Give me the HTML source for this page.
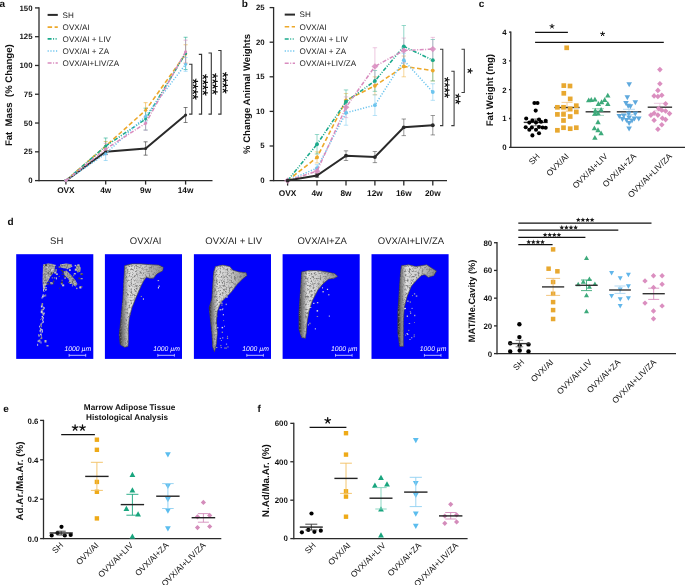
<!DOCTYPE html>
<html><head><meta charset="utf-8"><style>
html,body{margin:0;padding:0;background:#fff;}
body{width:685px;height:585px;overflow:hidden;}
svg{display:block;font-family:"Liberation Sans",sans-serif;text-rendering:geometricPrecision;will-change:transform;}
</style></head><body>
<svg width="685" height="585" viewBox="0 0 685 585">
<defs><filter id="speck2" x="0" y="0" width="100%" height="100%"><feTurbulence type="fractalNoise" baseFrequency="0.7" numOctaves="2" seed="9" result="n"/><feColorMatrix in="n" type="matrix" values="0 0 0 0 0.2  0 0 0 0 0.2  0 0 0 0 0.2  4 0 0 0 -1.7" result="d"/><feComposite in="d" in2="SourceGraphic" operator="in"/></filter><filter id="speck" x="0" y="0" width="100%" height="100%"><feTurbulence type="fractalNoise" baseFrequency="0.55" numOctaves="2" seed="4" result="n"/><feColorMatrix in="n" type="matrix" values="0 0 0 0 0.2  0 0 0 0 0.2  0 0 0 0 0.2  3.5 0 0 0 -1.6" result="d"/><feComposite in="d" in2="SourceGraphic" operator="in"/></filter><linearGradient id="bg0" x1="0" y1="0" x2="1" y2="0"><stop offset="0" stop-color="#202020"/><stop offset="0.08" stop-color="#7a7a7a"/><stop offset="0.22" stop-color="#dedede"/><stop offset="0.55" stop-color="#cacaca"/><stop offset="1" stop-color="#8a8a8a"/></linearGradient><linearGradient id="bg1" x1="0" y1="0" x2="1" y2="0"><stop offset="0" stop-color="#202020"/><stop offset="0.08" stop-color="#7a7a7a"/><stop offset="0.22" stop-color="#dedede"/><stop offset="0.55" stop-color="#cacaca"/><stop offset="1" stop-color="#8a8a8a"/></linearGradient><linearGradient id="bg2" x1="0" y1="0" x2="1" y2="0"><stop offset="0" stop-color="#202020"/><stop offset="0.08" stop-color="#7a7a7a"/><stop offset="0.22" stop-color="#dedede"/><stop offset="0.55" stop-color="#cacaca"/><stop offset="1" stop-color="#8a8a8a"/></linearGradient><linearGradient id="bg3" x1="0" y1="0" x2="1" y2="0"><stop offset="0" stop-color="#202020"/><stop offset="0.08" stop-color="#7a7a7a"/><stop offset="0.22" stop-color="#dedede"/><stop offset="0.55" stop-color="#cacaca"/><stop offset="1" stop-color="#8a8a8a"/></linearGradient><linearGradient id="bg4" x1="0" y1="0" x2="1" y2="0"><stop offset="0" stop-color="#202020"/><stop offset="0.08" stop-color="#7a7a7a"/><stop offset="0.22" stop-color="#dedede"/><stop offset="0.55" stop-color="#cacaca"/><stop offset="1" stop-color="#8a8a8a"/></linearGradient></defs>
<rect width="685" height="585" fill="#fff"/>
<line x1="39.00" y1="7.31" x2="39.00" y2="181.20" stroke="#2a2a2a" stroke-width="1.3" />
<line x1="39.00" y1="180.60" x2="212.50" y2="180.60" stroke="#2a2a2a" stroke-width="1.3" />
<line x1="35.00" y1="180.60" x2="39.00" y2="180.60" stroke="#2a2a2a" stroke-width="1.3" />
<text x="32.50" y="183.20" font-size="7.8" font-weight="bold" text-anchor="end" fill="#111" >0</text>
<line x1="35.00" y1="151.82" x2="39.00" y2="151.82" stroke="#2a2a2a" stroke-width="1.3" />
<text x="32.50" y="154.42" font-size="7.8" font-weight="bold" text-anchor="end" fill="#111" >25</text>
<line x1="35.00" y1="123.03" x2="39.00" y2="123.03" stroke="#2a2a2a" stroke-width="1.3" />
<text x="32.50" y="125.63" font-size="7.8" font-weight="bold" text-anchor="end" fill="#111" >50</text>
<line x1="35.00" y1="94.25" x2="39.00" y2="94.25" stroke="#2a2a2a" stroke-width="1.3" />
<text x="32.50" y="96.85" font-size="7.8" font-weight="bold" text-anchor="end" fill="#111" >75</text>
<line x1="35.00" y1="65.47" x2="39.00" y2="65.47" stroke="#2a2a2a" stroke-width="1.3" />
<text x="32.50" y="68.07" font-size="7.8" font-weight="bold" text-anchor="end" fill="#111" >100</text>
<line x1="35.00" y1="36.69" x2="39.00" y2="36.69" stroke="#2a2a2a" stroke-width="1.3" />
<text x="32.50" y="39.29" font-size="7.8" font-weight="bold" text-anchor="end" fill="#111" >125</text>
<line x1="35.00" y1="7.91" x2="39.00" y2="7.91" stroke="#2a2a2a" stroke-width="1.3" />
<text x="32.50" y="10.51" font-size="7.8" font-weight="bold" text-anchor="end" fill="#111" >150</text>
<line x1="65.90" y1="180.60" x2="65.90" y2="184.60" stroke="#2a2a2a" stroke-width="1.3" />
<text x="65.90" y="193.30" font-size="8.3" font-weight="bold" text-anchor="middle" fill="#111" >OVX</text>
<line x1="105.70" y1="180.60" x2="105.70" y2="184.60" stroke="#2a2a2a" stroke-width="1.3" />
<text x="105.70" y="193.30" font-size="8.3" font-weight="bold" text-anchor="middle" fill="#111" >4w</text>
<line x1="145.60" y1="180.60" x2="145.60" y2="184.60" stroke="#2a2a2a" stroke-width="1.3" />
<text x="145.60" y="193.30" font-size="8.3" font-weight="bold" text-anchor="middle" fill="#111" >9w</text>
<line x1="185.60" y1="180.60" x2="185.60" y2="184.60" stroke="#2a2a2a" stroke-width="1.3" />
<text x="185.60" y="193.30" font-size="8.3" font-weight="bold" text-anchor="middle" fill="#111" >14w</text>
<text transform="translate(11.90,95.20) rotate(-90)" font-size="9.6" font-weight="bold" text-anchor="middle" fill="#111" >Fat&#160;&#160;Mass&#160;&#160;(%&#160;Change)</text>
<text x="-0.60" y="7.00" font-size="10" font-weight="bold" text-anchor="start" fill="#111" >a</text>
<line x1="105.70" y1="148.82" x2="105.70" y2="154.58" stroke="#2a2a2a" stroke-width="0.8" opacity="0.75"/>
<line x1="103.70" y1="148.82" x2="107.70" y2="148.82" stroke="#2a2a2a" stroke-width="0.8" opacity="0.75"/>
<line x1="103.70" y1="154.58" x2="107.70" y2="154.58" stroke="#2a2a2a" stroke-width="0.8" opacity="0.75"/>
<line x1="145.60" y1="141.80" x2="145.60" y2="155.16" stroke="#2a2a2a" stroke-width="0.8" opacity="0.75"/>
<line x1="143.60" y1="141.80" x2="147.60" y2="141.80" stroke="#2a2a2a" stroke-width="0.8" opacity="0.75"/>
<line x1="143.60" y1="155.16" x2="147.60" y2="155.16" stroke="#2a2a2a" stroke-width="0.8" opacity="0.75"/>
<line x1="185.60" y1="107.49" x2="185.60" y2="122.46" stroke="#2a2a2a" stroke-width="0.8" opacity="0.75"/>
<line x1="183.60" y1="107.49" x2="187.60" y2="107.49" stroke="#2a2a2a" stroke-width="0.8" opacity="0.75"/>
<line x1="183.60" y1="122.46" x2="187.60" y2="122.46" stroke="#2a2a2a" stroke-width="0.8" opacity="0.75"/>
<line x1="105.70" y1="141.46" x2="105.70" y2="150.67" stroke="#EDA82A" stroke-width="0.8" opacity="0.75"/>
<line x1="103.70" y1="141.46" x2="107.70" y2="141.46" stroke="#EDA82A" stroke-width="0.8" opacity="0.75"/>
<line x1="103.70" y1="150.67" x2="107.70" y2="150.67" stroke="#EDA82A" stroke-width="0.8" opacity="0.75"/>
<line x1="145.60" y1="102.66" x2="145.60" y2="117.85" stroke="#EDA82A" stroke-width="0.8" opacity="0.75"/>
<line x1="143.60" y1="102.66" x2="147.60" y2="102.66" stroke="#EDA82A" stroke-width="0.8" opacity="0.75"/>
<line x1="143.60" y1="117.85" x2="147.60" y2="117.85" stroke="#EDA82A" stroke-width="0.8" opacity="0.75"/>
<line x1="185.60" y1="44.75" x2="185.60" y2="63.17" stroke="#EDA82A" stroke-width="0.8" opacity="0.75"/>
<line x1="183.60" y1="44.75" x2="187.60" y2="44.75" stroke="#EDA82A" stroke-width="0.8" opacity="0.75"/>
<line x1="183.60" y1="63.17" x2="187.60" y2="63.17" stroke="#EDA82A" stroke-width="0.8" opacity="0.75"/>
<line x1="105.70" y1="138.00" x2="105.70" y2="154.12" stroke="#1BAA8C" stroke-width="0.8" opacity="0.75"/>
<line x1="103.70" y1="138.00" x2="107.70" y2="138.00" stroke="#1BAA8C" stroke-width="0.8" opacity="0.75"/>
<line x1="103.70" y1="154.12" x2="107.70" y2="154.12" stroke="#1BAA8C" stroke-width="0.8" opacity="0.75"/>
<line x1="145.60" y1="108.18" x2="145.60" y2="130.06" stroke="#1BAA8C" stroke-width="0.8" opacity="0.75"/>
<line x1="143.60" y1="108.18" x2="147.60" y2="108.18" stroke="#1BAA8C" stroke-width="0.8" opacity="0.75"/>
<line x1="143.60" y1="130.06" x2="147.60" y2="130.06" stroke="#1BAA8C" stroke-width="0.8" opacity="0.75"/>
<line x1="185.60" y1="37.26" x2="185.60" y2="69.50" stroke="#1BAA8C" stroke-width="0.8" opacity="0.75"/>
<line x1="183.60" y1="37.26" x2="187.60" y2="37.26" stroke="#1BAA8C" stroke-width="0.8" opacity="0.75"/>
<line x1="183.60" y1="69.50" x2="187.60" y2="69.50" stroke="#1BAA8C" stroke-width="0.8" opacity="0.75"/>
<line x1="105.70" y1="147.10" x2="105.70" y2="160.45" stroke="#6CC4EE" stroke-width="0.8" opacity="0.75"/>
<line x1="103.70" y1="147.10" x2="107.70" y2="147.10" stroke="#6CC4EE" stroke-width="0.8" opacity="0.75"/>
<line x1="103.70" y1="160.45" x2="107.70" y2="160.45" stroke="#6CC4EE" stroke-width="0.8" opacity="0.75"/>
<line x1="145.60" y1="110.49" x2="145.60" y2="122.00" stroke="#6CC4EE" stroke-width="0.8" opacity="0.75"/>
<line x1="143.60" y1="110.49" x2="147.60" y2="110.49" stroke="#6CC4EE" stroke-width="0.8" opacity="0.75"/>
<line x1="143.60" y1="122.00" x2="147.60" y2="122.00" stroke="#6CC4EE" stroke-width="0.8" opacity="0.75"/>
<line x1="185.60" y1="57.41" x2="185.60" y2="71.23" stroke="#6CC4EE" stroke-width="0.8" opacity="0.75"/>
<line x1="183.60" y1="57.41" x2="187.60" y2="57.41" stroke="#6CC4EE" stroke-width="0.8" opacity="0.75"/>
<line x1="183.60" y1="71.23" x2="187.60" y2="71.23" stroke="#6CC4EE" stroke-width="0.8" opacity="0.75"/>
<line x1="105.70" y1="143.30" x2="105.70" y2="154.81" stroke="#D98CBF" stroke-width="0.8" opacity="0.75"/>
<line x1="103.70" y1="143.30" x2="107.70" y2="143.30" stroke="#D98CBF" stroke-width="0.8" opacity="0.75"/>
<line x1="103.70" y1="154.81" x2="107.70" y2="154.81" stroke="#D98CBF" stroke-width="0.8" opacity="0.75"/>
<line x1="145.60" y1="116.36" x2="145.60" y2="130.17" stroke="#D98CBF" stroke-width="0.8" opacity="0.75"/>
<line x1="143.60" y1="116.36" x2="147.60" y2="116.36" stroke="#D98CBF" stroke-width="0.8" opacity="0.75"/>
<line x1="143.60" y1="130.17" x2="147.60" y2="130.17" stroke="#D98CBF" stroke-width="0.8" opacity="0.75"/>
<line x1="185.60" y1="40.14" x2="185.60" y2="63.17" stroke="#D98CBF" stroke-width="0.8" opacity="0.75"/>
<line x1="183.60" y1="40.14" x2="187.60" y2="40.14" stroke="#D98CBF" stroke-width="0.8" opacity="0.75"/>
<line x1="183.60" y1="63.17" x2="187.60" y2="63.17" stroke="#D98CBF" stroke-width="0.8" opacity="0.75"/>
<polyline points="65.90,180.60 105.70,151.70 145.60,148.48 185.60,114.98" fill="none" stroke="#2a2a2a" stroke-width="2.0" />
<circle cx="65.90" cy="180.60" r="1.5" fill="#2a2a2a"/>
<circle cx="105.70" cy="151.70" r="1.5" fill="#2a2a2a"/>
<circle cx="145.60" cy="148.48" r="1.5" fill="#2a2a2a"/>
<circle cx="185.60" cy="114.98" r="1.5" fill="#2a2a2a"/>
<polyline points="65.90,180.60 105.70,146.06 145.60,110.26 185.60,53.96" fill="none" stroke="#EDA82A" stroke-width="1.6" stroke-dasharray="4.5 2.5"/>
<circle cx="65.90" cy="180.60" r="1.5" fill="#EDA82A"/>
<circle cx="105.70" cy="146.06" r="1.5" fill="#EDA82A"/>
<circle cx="145.60" cy="110.26" r="1.5" fill="#EDA82A"/>
<circle cx="185.60" cy="53.96" r="1.5" fill="#EDA82A"/>
<polyline points="65.90,180.60 105.70,146.06 145.60,119.12 185.60,53.38" fill="none" stroke="#1BAA8C" stroke-width="1.6" stroke-dasharray="4 1.5 1 1.5 1 1.5"/>
<circle cx="65.90" cy="180.60" r="1.5" fill="#1BAA8C"/>
<circle cx="105.70" cy="146.06" r="1.5" fill="#1BAA8C"/>
<circle cx="145.60" cy="119.12" r="1.5" fill="#1BAA8C"/>
<circle cx="185.60" cy="53.38" r="1.5" fill="#1BAA8C"/>
<polyline points="65.90,180.60 105.70,153.77 145.60,116.24 185.60,64.32" fill="none" stroke="#6CC4EE" stroke-width="1.5" stroke-dasharray="1.2 1.6"/>
<circle cx="65.90" cy="180.60" r="1.5" fill="#6CC4EE"/>
<circle cx="105.70" cy="153.77" r="1.5" fill="#6CC4EE"/>
<circle cx="145.60" cy="116.24" r="1.5" fill="#6CC4EE"/>
<circle cx="185.60" cy="64.32" r="1.5" fill="#6CC4EE"/>
<polyline points="65.90,180.60 105.70,149.05 145.60,123.27 185.60,51.65" fill="none" stroke="#D98CBF" stroke-width="1.5" stroke-dasharray="4 1.5 1 1.5"/>
<circle cx="65.90" cy="180.60" r="1.5" fill="#D98CBF"/>
<circle cx="105.70" cy="149.05" r="1.5" fill="#D98CBF"/>
<circle cx="145.60" cy="123.27" r="1.5" fill="#D98CBF"/>
<circle cx="185.60" cy="51.65" r="1.5" fill="#D98CBF"/>
<line x1="47.6" y1="14.9" x2="57.8" y2="14.9" stroke="#2a2a2a" stroke-width="2.0" />
<text x="62.60" y="17.70" font-size="8.1" font-weight="normal" text-anchor="start" fill="#1e1e1e" >SH</text>
<line x1="47.6" y1="27.1" x2="57.8" y2="27.1" stroke="#EDA82A" stroke-width="1.6" stroke-dasharray="4.5 2.5"/>
<text x="62.60" y="29.90" font-size="8.1" font-weight="normal" text-anchor="start" fill="#1e1e1e" >OVX/AI</text>
<line x1="47.6" y1="38.9" x2="57.8" y2="38.9" stroke="#1BAA8C" stroke-width="1.6" stroke-dasharray="4 1.5 1 1.5 1 1.5"/>
<text x="62.60" y="41.70" font-size="8.1" font-weight="normal" text-anchor="start" fill="#1e1e1e" >OVX/AI + LIV</text>
<line x1="47.6" y1="51.1" x2="57.8" y2="51.1" stroke="#6CC4EE" stroke-width="1.5" stroke-dasharray="1.2 1.6"/>
<text x="62.60" y="53.90" font-size="8.1" font-weight="normal" text-anchor="start" fill="#1e1e1e" >OVX/AI + ZA</text>
<line x1="47.6" y1="63.1" x2="57.8" y2="63.1" stroke="#D98CBF" stroke-width="1.5" stroke-dasharray="4 1.5 1 1.5"/>
<text x="62.60" y="65.90" font-size="8.1" font-weight="normal" text-anchor="start" fill="#1e1e1e" >OVX/AI+LIV/ZA</text>
<polyline points="189.10,64.20 191.90,64.20 191.90,114.1 189.10,114.1" fill="none" stroke="#333" stroke-width="1.1"/>
<path d="M195.20,81.40 L197.60,81.40 M195.20,81.40 L195.94,83.68 M195.20,81.40 L193.26,82.81 M195.20,81.40 L193.26,79.99 M195.20,81.40 L195.94,79.12" stroke="#111" stroke-width="1.15" stroke-linecap="round" fill="none"/>
<path d="M195.20,86.50 L197.60,86.50 M195.20,86.50 L195.94,88.78 M195.20,86.50 L193.26,87.91 M195.20,86.50 L193.26,85.09 M195.20,86.50 L195.94,84.22" stroke="#111" stroke-width="1.15" stroke-linecap="round" fill="none"/>
<path d="M195.20,91.90 L197.60,91.90 M195.20,91.90 L195.94,94.18 M195.20,91.90 L193.26,93.31 M195.20,91.90 L193.26,90.49 M195.20,91.90 L195.94,89.62" stroke="#111" stroke-width="1.15" stroke-linecap="round" fill="none"/>
<path d="M195.20,96.90 L197.60,96.90 M195.20,96.90 L195.94,99.18 M195.20,96.90 L193.26,98.31 M195.20,96.90 L193.26,95.49 M195.20,96.90 L195.94,94.62" stroke="#111" stroke-width="1.15" stroke-linecap="round" fill="none"/>
<polyline points="198.80,54.40 201.60,54.40 201.60,114.1 198.80,114.1" fill="none" stroke="#333" stroke-width="1.1"/>
<path d="M205.10,76.90 L207.50,76.90 M205.10,76.90 L205.84,79.18 M205.10,76.90 L203.16,78.31 M205.10,76.90 L203.16,75.49 M205.10,76.90 L205.84,74.62" stroke="#111" stroke-width="1.15" stroke-linecap="round" fill="none"/>
<path d="M205.10,82.30 L207.50,82.30 M205.10,82.30 L205.84,84.58 M205.10,82.30 L203.16,83.71 M205.10,82.30 L203.16,80.89 M205.10,82.30 L205.84,80.02" stroke="#111" stroke-width="1.15" stroke-linecap="round" fill="none"/>
<path d="M205.10,87.40 L207.50,87.40 M205.10,87.40 L205.84,89.68 M205.10,87.40 L203.16,88.81 M205.10,87.40 L203.16,85.99 M205.10,87.40 L205.84,85.12" stroke="#111" stroke-width="1.15" stroke-linecap="round" fill="none"/>
<path d="M205.10,92.80 L207.50,92.80 M205.10,92.80 L205.84,95.08 M205.10,92.80 L203.16,94.21 M205.10,92.80 L203.16,91.39 M205.10,92.80 L205.84,90.52" stroke="#111" stroke-width="1.15" stroke-linecap="round" fill="none"/>
<polyline points="208.50,53.00 211.30,53.00 211.30,114.1 208.50,114.1" fill="none" stroke="#333" stroke-width="1.1"/>
<path d="M214.90,76.00 L217.30,76.00 M214.90,76.00 L215.64,78.28 M214.90,76.00 L212.96,77.41 M214.90,76.00 L212.96,74.59 M214.90,76.00 L215.64,73.72" stroke="#111" stroke-width="1.15" stroke-linecap="round" fill="none"/>
<path d="M214.90,81.40 L217.30,81.40 M214.90,81.40 L215.64,83.68 M214.90,81.40 L212.96,82.81 M214.90,81.40 L212.96,79.99 M214.90,81.40 L215.64,79.12" stroke="#111" stroke-width="1.15" stroke-linecap="round" fill="none"/>
<path d="M214.90,86.50 L217.30,86.50 M214.90,86.50 L215.64,88.78 M214.90,86.50 L212.96,87.91 M214.90,86.50 L212.96,85.09 M214.90,86.50 L215.64,84.22" stroke="#111" stroke-width="1.15" stroke-linecap="round" fill="none"/>
<path d="M214.90,91.90 L217.30,91.90 M214.90,91.90 L215.64,94.18 M214.90,91.90 L212.96,93.31 M214.90,91.90 L212.96,90.49 M214.90,91.90 L215.64,89.62" stroke="#111" stroke-width="1.15" stroke-linecap="round" fill="none"/>
<polyline points="218.20,50.50 221.00,50.50 221.00,114.1 218.20,114.1" fill="none" stroke="#333" stroke-width="1.1"/>
<path d="M225.10,74.80 L227.50,74.80 M225.10,74.80 L225.84,77.08 M225.10,74.80 L223.16,76.21 M225.10,74.80 L223.16,73.39 M225.10,74.80 L225.84,72.52" stroke="#111" stroke-width="1.15" stroke-linecap="round" fill="none"/>
<path d="M225.10,80.20 L227.50,80.20 M225.10,80.20 L225.84,82.48 M225.10,80.20 L223.16,81.61 M225.10,80.20 L223.16,78.79 M225.10,80.20 L225.84,77.92" stroke="#111" stroke-width="1.15" stroke-linecap="round" fill="none"/>
<path d="M225.10,85.30 L227.50,85.30 M225.10,85.30 L225.84,87.58 M225.10,85.30 L223.16,86.71 M225.10,85.30 L223.16,83.89 M225.10,85.30 L225.84,83.02" stroke="#111" stroke-width="1.15" stroke-linecap="round" fill="none"/>
<path d="M225.10,90.70 L227.50,90.70 M225.10,90.70 L225.84,92.98 M225.10,90.70 L223.16,92.11 M225.10,90.70 L223.16,89.29 M225.10,90.70 L225.84,88.42" stroke="#111" stroke-width="1.15" stroke-linecap="round" fill="none"/>
<line x1="273.60" y1="7.00" x2="273.60" y2="181.20" stroke="#2a2a2a" stroke-width="1.3" />
<line x1="273.60" y1="180.60" x2="447.00" y2="180.60" stroke="#2a2a2a" stroke-width="1.3" />
<line x1="269.60" y1="180.60" x2="273.60" y2="180.60" stroke="#2a2a2a" stroke-width="1.3" />
<text x="264.60" y="182.90" font-size="7.8" font-weight="bold" text-anchor="end" fill="#111" >0</text>
<line x1="269.60" y1="146.00" x2="273.60" y2="146.00" stroke="#2a2a2a" stroke-width="1.3" />
<text x="264.60" y="148.30" font-size="7.8" font-weight="bold" text-anchor="end" fill="#111" >5</text>
<line x1="269.60" y1="111.40" x2="273.60" y2="111.40" stroke="#2a2a2a" stroke-width="1.3" />
<text x="264.60" y="113.70" font-size="7.8" font-weight="bold" text-anchor="end" fill="#111" >10</text>
<line x1="269.60" y1="76.80" x2="273.60" y2="76.80" stroke="#2a2a2a" stroke-width="1.3" />
<text x="264.60" y="79.10" font-size="7.8" font-weight="bold" text-anchor="end" fill="#111" >15</text>
<line x1="269.60" y1="42.20" x2="273.60" y2="42.20" stroke="#2a2a2a" stroke-width="1.3" />
<text x="264.60" y="44.50" font-size="7.8" font-weight="bold" text-anchor="end" fill="#111" >20</text>
<line x1="269.60" y1="7.60" x2="273.60" y2="7.60" stroke="#2a2a2a" stroke-width="1.3" />
<text x="264.60" y="9.90" font-size="7.8" font-weight="bold" text-anchor="end" fill="#111" >25</text>
<line x1="287.60" y1="180.60" x2="287.60" y2="185.60" stroke="#2a2a2a" stroke-width="1.3" />
<text x="287.60" y="196.00" font-size="8.3" font-weight="bold" text-anchor="middle" fill="#111" >OVX</text>
<line x1="317.00" y1="180.60" x2="317.00" y2="185.60" stroke="#2a2a2a" stroke-width="1.3" />
<text x="317.00" y="196.00" font-size="8.3" font-weight="bold" text-anchor="middle" fill="#111" >4w</text>
<line x1="346.00" y1="180.60" x2="346.00" y2="185.60" stroke="#2a2a2a" stroke-width="1.3" />
<text x="346.00" y="196.00" font-size="8.3" font-weight="bold" text-anchor="middle" fill="#111" >8w</text>
<line x1="374.90" y1="180.60" x2="374.90" y2="185.60" stroke="#2a2a2a" stroke-width="1.3" />
<text x="374.90" y="196.00" font-size="8.3" font-weight="bold" text-anchor="middle" fill="#111" >12w</text>
<line x1="403.80" y1="180.60" x2="403.80" y2="185.60" stroke="#2a2a2a" stroke-width="1.3" />
<text x="403.80" y="196.00" font-size="8.3" font-weight="bold" text-anchor="middle" fill="#111" >16w</text>
<line x1="432.80" y1="180.60" x2="432.80" y2="185.60" stroke="#2a2a2a" stroke-width="1.3" />
<text x="432.80" y="196.00" font-size="8.3" font-weight="bold" text-anchor="middle" fill="#111" >20w</text>
<text transform="translate(250.20,94.00) rotate(-90)" font-size="9.55" font-weight="bold" text-anchor="middle" fill="#111" >%&#160;Change Animal Weights</text>
<text x="241.80" y="7.10" font-size="10" font-weight="bold" text-anchor="start" fill="#111" >b</text>
<line x1="317.00" y1="173.40" x2="317.00" y2="177.56" stroke="#2a2a2a" stroke-width="0.8" opacity="0.6"/>
<line x1="314.80" y1="173.40" x2="319.20" y2="173.40" stroke="#2a2a2a" stroke-width="0.8" opacity="0.6"/>
<line x1="314.80" y1="177.56" x2="319.20" y2="177.56" stroke="#2a2a2a" stroke-width="0.8" opacity="0.6"/>
<line x1="346.00" y1="150.84" x2="346.00" y2="160.53" stroke="#2a2a2a" stroke-width="0.8" opacity="0.6"/>
<line x1="343.80" y1="150.84" x2="348.20" y2="150.84" stroke="#2a2a2a" stroke-width="0.8" opacity="0.6"/>
<line x1="343.80" y1="160.53" x2="348.20" y2="160.53" stroke="#2a2a2a" stroke-width="0.8" opacity="0.6"/>
<line x1="374.90" y1="151.54" x2="374.90" y2="162.61" stroke="#2a2a2a" stroke-width="0.8" opacity="0.6"/>
<line x1="372.70" y1="151.54" x2="377.10" y2="151.54" stroke="#2a2a2a" stroke-width="0.8" opacity="0.6"/>
<line x1="372.70" y1="162.61" x2="377.10" y2="162.61" stroke="#2a2a2a" stroke-width="0.8" opacity="0.6"/>
<line x1="403.80" y1="119.01" x2="403.80" y2="135.62" stroke="#2a2a2a" stroke-width="0.8" opacity="0.6"/>
<line x1="401.60" y1="119.01" x2="406.00" y2="119.01" stroke="#2a2a2a" stroke-width="0.8" opacity="0.6"/>
<line x1="401.60" y1="135.62" x2="406.00" y2="135.62" stroke="#2a2a2a" stroke-width="0.8" opacity="0.6"/>
<line x1="432.80" y1="115.55" x2="432.80" y2="134.93" stroke="#2a2a2a" stroke-width="0.8" opacity="0.6"/>
<line x1="430.60" y1="115.55" x2="435.00" y2="115.55" stroke="#2a2a2a" stroke-width="0.8" opacity="0.6"/>
<line x1="430.60" y1="134.93" x2="435.00" y2="134.93" stroke="#2a2a2a" stroke-width="0.8" opacity="0.6"/>
<line x1="317.00" y1="151.88" x2="317.00" y2="162.95" stroke="#EDA82A" stroke-width="0.8" opacity="0.6"/>
<line x1="314.80" y1="151.88" x2="319.20" y2="151.88" stroke="#EDA82A" stroke-width="0.8" opacity="0.6"/>
<line x1="314.80" y1="162.95" x2="319.20" y2="162.95" stroke="#EDA82A" stroke-width="0.8" opacity="0.6"/>
<line x1="346.00" y1="93.41" x2="346.00" y2="107.25" stroke="#EDA82A" stroke-width="0.8" opacity="0.6"/>
<line x1="343.80" y1="93.41" x2="348.20" y2="93.41" stroke="#EDA82A" stroke-width="0.8" opacity="0.6"/>
<line x1="343.80" y1="107.25" x2="348.20" y2="107.25" stroke="#EDA82A" stroke-width="0.8" opacity="0.6"/>
<line x1="374.90" y1="76.80" x2="374.90" y2="94.79" stroke="#EDA82A" stroke-width="0.8" opacity="0.6"/>
<line x1="372.70" y1="76.80" x2="377.10" y2="76.80" stroke="#EDA82A" stroke-width="0.8" opacity="0.6"/>
<line x1="372.70" y1="94.79" x2="377.10" y2="94.79" stroke="#EDA82A" stroke-width="0.8" opacity="0.6"/>
<line x1="403.80" y1="56.04" x2="403.80" y2="76.80" stroke="#EDA82A" stroke-width="0.8" opacity="0.6"/>
<line x1="401.60" y1="56.04" x2="406.00" y2="56.04" stroke="#EDA82A" stroke-width="0.8" opacity="0.6"/>
<line x1="401.60" y1="76.80" x2="406.00" y2="76.80" stroke="#EDA82A" stroke-width="0.8" opacity="0.6"/>
<line x1="432.80" y1="60.19" x2="432.80" y2="80.95" stroke="#EDA82A" stroke-width="0.8" opacity="0.6"/>
<line x1="430.60" y1="60.19" x2="435.00" y2="60.19" stroke="#EDA82A" stroke-width="0.8" opacity="0.6"/>
<line x1="430.60" y1="80.95" x2="435.00" y2="80.95" stroke="#EDA82A" stroke-width="0.8" opacity="0.6"/>
<line x1="317.00" y1="134.58" x2="317.00" y2="153.96" stroke="#1BAA8C" stroke-width="0.8" opacity="0.6"/>
<line x1="314.80" y1="134.58" x2="319.20" y2="134.58" stroke="#1BAA8C" stroke-width="0.8" opacity="0.6"/>
<line x1="314.80" y1="153.96" x2="319.20" y2="153.96" stroke="#1BAA8C" stroke-width="0.8" opacity="0.6"/>
<line x1="346.00" y1="89.95" x2="346.00" y2="113.48" stroke="#1BAA8C" stroke-width="0.8" opacity="0.6"/>
<line x1="343.80" y1="89.95" x2="348.20" y2="89.95" stroke="#1BAA8C" stroke-width="0.8" opacity="0.6"/>
<line x1="343.80" y1="113.48" x2="348.20" y2="113.48" stroke="#1BAA8C" stroke-width="0.8" opacity="0.6"/>
<line x1="374.90" y1="70.57" x2="374.90" y2="91.33" stroke="#1BAA8C" stroke-width="0.8" opacity="0.6"/>
<line x1="372.70" y1="70.57" x2="377.10" y2="70.57" stroke="#1BAA8C" stroke-width="0.8" opacity="0.6"/>
<line x1="372.70" y1="91.33" x2="377.10" y2="91.33" stroke="#1BAA8C" stroke-width="0.8" opacity="0.6"/>
<line x1="403.80" y1="25.59" x2="403.80" y2="67.11" stroke="#1BAA8C" stroke-width="0.8" opacity="0.6"/>
<line x1="401.60" y1="25.59" x2="406.00" y2="25.59" stroke="#1BAA8C" stroke-width="0.8" opacity="0.6"/>
<line x1="401.60" y1="67.11" x2="406.00" y2="67.11" stroke="#1BAA8C" stroke-width="0.8" opacity="0.6"/>
<line x1="432.80" y1="39.43" x2="432.80" y2="80.95" stroke="#1BAA8C" stroke-width="0.8" opacity="0.6"/>
<line x1="430.60" y1="39.43" x2="435.00" y2="39.43" stroke="#1BAA8C" stroke-width="0.8" opacity="0.6"/>
<line x1="430.60" y1="80.95" x2="435.00" y2="80.95" stroke="#1BAA8C" stroke-width="0.8" opacity="0.6"/>
<line x1="317.00" y1="164.68" x2="317.00" y2="171.60" stroke="#6CC4EE" stroke-width="0.8" opacity="0.6"/>
<line x1="314.80" y1="164.68" x2="319.20" y2="164.68" stroke="#6CC4EE" stroke-width="0.8" opacity="0.6"/>
<line x1="314.80" y1="171.60" x2="319.20" y2="171.60" stroke="#6CC4EE" stroke-width="0.8" opacity="0.6"/>
<line x1="346.00" y1="100.33" x2="346.00" y2="125.24" stroke="#6CC4EE" stroke-width="0.8" opacity="0.6"/>
<line x1="343.80" y1="100.33" x2="348.20" y2="100.33" stroke="#6CC4EE" stroke-width="0.8" opacity="0.6"/>
<line x1="343.80" y1="125.24" x2="348.20" y2="125.24" stroke="#6CC4EE" stroke-width="0.8" opacity="0.6"/>
<line x1="374.90" y1="94.79" x2="374.90" y2="115.55" stroke="#6CC4EE" stroke-width="0.8" opacity="0.6"/>
<line x1="372.70" y1="94.79" x2="377.10" y2="94.79" stroke="#6CC4EE" stroke-width="0.8" opacity="0.6"/>
<line x1="372.70" y1="115.55" x2="377.10" y2="115.55" stroke="#6CC4EE" stroke-width="0.8" opacity="0.6"/>
<line x1="403.80" y1="53.27" x2="403.80" y2="67.11" stroke="#6CC4EE" stroke-width="0.8" opacity="0.6"/>
<line x1="401.60" y1="53.27" x2="406.00" y2="53.27" stroke="#6CC4EE" stroke-width="0.8" opacity="0.6"/>
<line x1="401.60" y1="67.11" x2="406.00" y2="67.11" stroke="#6CC4EE" stroke-width="0.8" opacity="0.6"/>
<line x1="432.80" y1="83.72" x2="432.80" y2="100.33" stroke="#6CC4EE" stroke-width="0.8" opacity="0.6"/>
<line x1="430.60" y1="83.72" x2="435.00" y2="83.72" stroke="#6CC4EE" stroke-width="0.8" opacity="0.6"/>
<line x1="430.60" y1="100.33" x2="435.00" y2="100.33" stroke="#6CC4EE" stroke-width="0.8" opacity="0.6"/>
<line x1="317.00" y1="167.73" x2="317.00" y2="174.65" stroke="#D98CBF" stroke-width="0.8" opacity="0.6"/>
<line x1="314.80" y1="167.73" x2="319.20" y2="167.73" stroke="#D98CBF" stroke-width="0.8" opacity="0.6"/>
<line x1="314.80" y1="174.65" x2="319.20" y2="174.65" stroke="#D98CBF" stroke-width="0.8" opacity="0.6"/>
<line x1="346.00" y1="96.87" x2="346.00" y2="117.63" stroke="#D98CBF" stroke-width="0.8" opacity="0.6"/>
<line x1="343.80" y1="96.87" x2="348.20" y2="96.87" stroke="#D98CBF" stroke-width="0.8" opacity="0.6"/>
<line x1="343.80" y1="117.63" x2="348.20" y2="117.63" stroke="#D98CBF" stroke-width="0.8" opacity="0.6"/>
<line x1="374.90" y1="47.74" x2="374.90" y2="85.10" stroke="#D98CBF" stroke-width="0.8" opacity="0.6"/>
<line x1="372.70" y1="47.74" x2="377.10" y2="47.74" stroke="#D98CBF" stroke-width="0.8" opacity="0.6"/>
<line x1="372.70" y1="85.10" x2="377.10" y2="85.10" stroke="#D98CBF" stroke-width="0.8" opacity="0.6"/>
<line x1="403.80" y1="38.05" x2="403.80" y2="62.96" stroke="#D98CBF" stroke-width="0.8" opacity="0.6"/>
<line x1="401.60" y1="38.05" x2="406.00" y2="38.05" stroke="#D98CBF" stroke-width="0.8" opacity="0.6"/>
<line x1="401.60" y1="62.96" x2="406.00" y2="62.96" stroke="#D98CBF" stroke-width="0.8" opacity="0.6"/>
<line x1="432.80" y1="37.36" x2="432.80" y2="60.88" stroke="#D98CBF" stroke-width="0.8" opacity="0.6"/>
<line x1="430.60" y1="37.36" x2="435.00" y2="37.36" stroke="#D98CBF" stroke-width="0.8" opacity="0.6"/>
<line x1="430.60" y1="60.88" x2="435.00" y2="60.88" stroke="#D98CBF" stroke-width="0.8" opacity="0.6"/>
<polyline points="287.60,180.60 317.00,157.42 346.00,100.33 374.90,85.80 403.80,66.42 432.80,70.57" fill="none" stroke="#EDA82A" stroke-width="1.6" stroke-dasharray="4.5 2.5"/>
<circle cx="287.60" cy="180.60" r="1.9" fill="#EDA82A"/>
<circle cx="317.00" cy="157.42" r="1.9" fill="#EDA82A"/>
<circle cx="346.00" cy="100.33" r="1.9" fill="#EDA82A"/>
<circle cx="374.90" cy="85.80" r="1.9" fill="#EDA82A"/>
<circle cx="403.80" cy="66.42" r="1.9" fill="#EDA82A"/>
<circle cx="432.80" cy="70.57" r="1.9" fill="#EDA82A"/>
<polyline points="287.60,180.60 317.00,144.27 346.00,101.71 374.90,80.95 403.80,46.35 432.80,60.19" fill="none" stroke="#1BAA8C" stroke-width="1.6" stroke-dasharray="4 1.5 1 1.5 1 1.5"/>
<circle cx="287.60" cy="180.60" r="1.9" fill="#1BAA8C"/>
<circle cx="317.00" cy="144.27" r="1.9" fill="#1BAA8C"/>
<circle cx="346.00" cy="101.71" r="1.9" fill="#1BAA8C"/>
<circle cx="374.90" cy="80.95" r="1.9" fill="#1BAA8C"/>
<circle cx="403.80" cy="46.35" r="1.9" fill="#1BAA8C"/>
<circle cx="432.80" cy="60.19" r="1.9" fill="#1BAA8C"/>
<polyline points="287.60,180.60 317.00,168.14 346.00,112.78 374.90,105.17 403.80,60.19 432.80,92.02" fill="none" stroke="#6CC4EE" stroke-width="1.5" stroke-dasharray="1.2 1.6"/>
<circle cx="287.60" cy="180.60" r="1.9" fill="#6CC4EE"/>
<circle cx="317.00" cy="168.14" r="1.9" fill="#6CC4EE"/>
<circle cx="346.00" cy="112.78" r="1.9" fill="#6CC4EE"/>
<circle cx="374.90" cy="105.17" r="1.9" fill="#6CC4EE"/>
<circle cx="403.80" cy="60.19" r="1.9" fill="#6CC4EE"/>
<circle cx="432.80" cy="92.02" r="1.9" fill="#6CC4EE"/>
<polyline points="287.60,180.60 317.00,171.19 346.00,107.25 374.90,66.42 403.80,50.50 432.80,49.12" fill="none" stroke="#D98CBF" stroke-width="1.5" stroke-dasharray="4 1.5 1 1.5"/>
<path d="M287.60,177.50 L291.00,180.60 L287.60,183.70 L284.20,180.60Z" fill="#D98CBF" opacity="0.85"/>
<path d="M317.00,168.09 L320.40,171.19 L317.00,174.29 L313.60,171.19Z" fill="#D98CBF" opacity="0.85"/>
<path d="M346.00,104.15 L349.40,107.25 L346.00,110.35 L342.60,107.25Z" fill="#D98CBF" opacity="0.85"/>
<path d="M374.90,63.32 L378.30,66.42 L374.90,69.52 L371.50,66.42Z" fill="#D98CBF" opacity="0.85"/>
<path d="M403.80,47.40 L407.20,50.50 L403.80,53.60 L400.40,50.50Z" fill="#D98CBF" opacity="0.85"/>
<path d="M432.80,46.02 L436.20,49.12 L432.80,52.22 L429.40,49.12Z" fill="#D98CBF" opacity="0.85"/>
<polyline points="287.60,180.60 317.00,175.48 346.00,155.69 374.90,157.07 403.80,127.32 432.80,125.24" fill="none" stroke="#2a2a2a" stroke-width="2.0" />
<circle cx="287.60" cy="180.60" r="1.9" fill="#2a2a2a"/>
<circle cx="317.00" cy="175.48" r="1.9" fill="#2a2a2a"/>
<circle cx="346.00" cy="155.69" r="1.9" fill="#2a2a2a"/>
<circle cx="374.90" cy="157.07" r="1.9" fill="#2a2a2a"/>
<circle cx="403.80" cy="127.32" r="1.9" fill="#2a2a2a"/>
<circle cx="432.80" cy="125.24" r="1.9" fill="#2a2a2a"/>
<line x1="284.7" y1="14.6" x2="295" y2="14.6" stroke="#2a2a2a" stroke-width="2.0" />
<text x="299.60" y="17.40" font-size="8.1" font-weight="normal" text-anchor="start" fill="#1e1e1e" >SH</text>
<line x1="284.7" y1="26.8" x2="295" y2="26.8" stroke="#EDA82A" stroke-width="1.6" stroke-dasharray="4.5 2.5"/>
<text x="299.60" y="29.60" font-size="8.1" font-weight="normal" text-anchor="start" fill="#1e1e1e" >OVX/AI</text>
<line x1="284.7" y1="39.0" x2="295" y2="39.0" stroke="#1BAA8C" stroke-width="1.6" stroke-dasharray="4 1.5 1 1.5 1 1.5"/>
<text x="299.60" y="41.80" font-size="8.1" font-weight="normal" text-anchor="start" fill="#1e1e1e" >OVX/AI + LIV</text>
<line x1="284.7" y1="50.9" x2="295" y2="50.9" stroke="#6CC4EE" stroke-width="1.5" stroke-dasharray="1.2 1.6"/>
<text x="299.60" y="53.70" font-size="8.1" font-weight="normal" text-anchor="start" fill="#1e1e1e" >OVX/AI + ZA</text>
<line x1="284.7" y1="63.2" x2="295" y2="63.2" stroke="#D98CBF" stroke-width="1.5" stroke-dasharray="4 1.5 1 1.5"/>
<text x="299.60" y="66.00" font-size="8.1" font-weight="normal" text-anchor="start" fill="#1e1e1e" >OVX/AI+LIV/ZA</text>
<polyline points="440.00,49.20 442.80,49.20 442.80,125.60 440.00,125.60" fill="none" stroke="#3a3a3a" stroke-width="1.05"/>
<polyline points="451.30,71.30 454.10,71.30 454.10,125.60 451.30,125.60" fill="none" stroke="#3a3a3a" stroke-width="1.05"/>
<polyline points="461.50,49.20 464.30,49.20 464.30,92.40 461.50,92.40" fill="none" stroke="#3a3a3a" stroke-width="1.05"/>
<path d="M446.90,79.80 L449.20,79.80 M446.90,79.80 L447.61,81.99 M446.90,79.80 L445.04,81.15 M446.90,79.80 L445.04,78.45 M446.90,79.80 L447.61,77.61" stroke="#111" stroke-width="1.1" stroke-linecap="round" fill="none"/>
<path d="M446.90,85.00 L449.20,85.00 M446.90,85.00 L447.61,87.19 M446.90,85.00 L445.04,86.35 M446.90,85.00 L445.04,83.65 M446.90,85.00 L447.61,82.81" stroke="#111" stroke-width="1.1" stroke-linecap="round" fill="none"/>
<path d="M446.90,90.10 L449.20,90.10 M446.90,90.10 L447.61,92.29 M446.90,90.10 L445.04,91.45 M446.90,90.10 L445.04,88.75 M446.90,90.10 L447.61,87.91" stroke="#111" stroke-width="1.1" stroke-linecap="round" fill="none"/>
<path d="M446.90,95.20 L449.20,95.20 M446.90,95.20 L447.61,97.39 M446.90,95.20 L445.04,96.55 M446.90,95.20 L445.04,93.85 M446.90,95.20 L447.61,93.01" stroke="#111" stroke-width="1.1" stroke-linecap="round" fill="none"/>
<path d="M457.80,96.30 L460.10,96.30 M457.80,96.30 L458.51,98.49 M457.80,96.30 L455.94,97.65 M457.80,96.30 L455.94,94.95 M457.80,96.30 L458.51,94.11" stroke="#111" stroke-width="1.1" stroke-linecap="round" fill="none"/>
<path d="M457.80,101.60 L460.10,101.60 M457.80,101.60 L458.51,103.79 M457.80,101.60 L455.94,102.95 M457.80,101.60 L455.94,100.25 M457.80,101.60 L458.51,99.41" stroke="#111" stroke-width="1.1" stroke-linecap="round" fill="none"/>
<path d="M469.90,70.90 L472.20,70.90 M469.90,70.90 L470.61,73.09 M469.90,70.90 L468.04,72.25 M469.90,70.90 L468.04,69.55 M469.90,70.90 L470.61,68.71" stroke="#111" stroke-width="1.1" stroke-linecap="round" fill="none"/>
<line x1="510.80" y1="31.50" x2="510.80" y2="147.90" stroke="#2a2a2a" stroke-width="1.3" />
<line x1="510.80" y1="147.30" x2="685.00" y2="147.30" stroke="#2a2a2a" stroke-width="1.3" />
<line x1="509.00" y1="147.30" x2="510.80" y2="147.30" stroke="#2a2a2a" stroke-width="1.3" />
<text x="506.60" y="150.10" font-size="7.8" font-weight="bold" text-anchor="end" fill="#111" >0</text>
<line x1="509.00" y1="118.50" x2="510.80" y2="118.50" stroke="#2a2a2a" stroke-width="1.3" />
<text x="506.60" y="121.30" font-size="7.8" font-weight="bold" text-anchor="end" fill="#111" >1</text>
<line x1="509.00" y1="89.70" x2="510.80" y2="89.70" stroke="#2a2a2a" stroke-width="1.3" />
<text x="506.60" y="92.50" font-size="7.8" font-weight="bold" text-anchor="end" fill="#111" >2</text>
<line x1="509.00" y1="60.90" x2="510.80" y2="60.90" stroke="#2a2a2a" stroke-width="1.3" />
<text x="506.60" y="63.70" font-size="7.8" font-weight="bold" text-anchor="end" fill="#111" >3</text>
<line x1="509.00" y1="32.10" x2="510.80" y2="32.10" stroke="#2a2a2a" stroke-width="1.3" />
<text x="506.60" y="34.90" font-size="7.8" font-weight="bold" text-anchor="end" fill="#111" >4</text>
<text transform="translate(492.90,90.10) rotate(-90)" font-size="9.6" font-weight="bold" text-anchor="middle" fill="#111" >Fat Weight (mg)</text>
<text x="478.70" y="7.30" font-size="10" font-weight="bold" text-anchor="start" fill="#111" >c</text>
<line x1="535.10" y1="32.40" x2="567.90" y2="32.40" stroke="#111" stroke-width="1.2" />
<path d="M552.00,26.40 L552.00,24.30 M552.00,26.40 L554.00,25.75 M552.00,26.40 L553.23,28.10 M552.00,26.40 L550.77,28.10 M552.00,26.40 L550.00,25.75" stroke="#111" stroke-width="1.0" stroke-linecap="round" fill="none"/>
<line x1="535.10" y1="42.40" x2="663.80" y2="42.40" stroke="#111" stroke-width="1.2" />
<path d="M602.60,34.00 L602.60,31.90 M602.60,34.00 L604.60,33.35 M602.60,34.00 L603.83,35.70 M602.60,34.00 L601.37,35.70 M602.60,34.00 L600.60,33.35" stroke="#111" stroke-width="1.0" stroke-linecap="round" fill="none"/>
<line x1="535.70" y1="119.00" x2="535.70" y2="125.80" stroke="#777" stroke-width="0.9" />
<line x1="530.70" y1="119.00" x2="540.70" y2="119.00" stroke="#777" stroke-width="0.9" />
<line x1="530.70" y1="125.80" x2="540.70" y2="125.80" stroke="#777" stroke-width="0.9" />
<line x1="523.70" y1="122.40" x2="547.70" y2="122.40" stroke="#333" stroke-width="1.4" />
<line x1="567.00" y1="102.40" x2="567.00" y2="111.30" stroke="#F3C98A" stroke-width="0.9" />
<line x1="561.50" y1="102.40" x2="572.50" y2="102.40" stroke="#F3C98A" stroke-width="0.9" />
<line x1="561.50" y1="111.30" x2="572.50" y2="111.30" stroke="#F3C98A" stroke-width="0.9" />
<line x1="554.40" y1="107.50" x2="579.60" y2="107.50" stroke="#333" stroke-width="1.4" />
<line x1="598.00" y1="108.60" x2="598.00" y2="115.40" stroke="#9CD4BB" stroke-width="0.9" />
<line x1="592.00" y1="108.60" x2="604.00" y2="108.60" stroke="#9CD4BB" stroke-width="0.9" />
<line x1="592.00" y1="115.40" x2="604.00" y2="115.40" stroke="#9CD4BB" stroke-width="0.9" />
<line x1="585.60" y1="111.80" x2="610.40" y2="111.80" stroke="#333" stroke-width="1.4" />
<line x1="629.00" y1="109.30" x2="629.00" y2="114.60" stroke="#AED4EE" stroke-width="0.9" />
<line x1="623.00" y1="109.30" x2="635.00" y2="109.30" stroke="#AED4EE" stroke-width="0.9" />
<line x1="623.00" y1="114.60" x2="635.00" y2="114.60" stroke="#AED4EE" stroke-width="0.9" />
<line x1="616.80" y1="111.80" x2="641.20" y2="111.80" stroke="#333" stroke-width="1.4" />
<line x1="659.90" y1="103.30" x2="659.90" y2="110.80" stroke="#EBC3DE" stroke-width="0.9" />
<line x1="653.90" y1="103.30" x2="665.90" y2="103.30" stroke="#EBC3DE" stroke-width="0.9" />
<line x1="653.90" y1="110.80" x2="665.90" y2="110.80" stroke="#EBC3DE" stroke-width="0.9" />
<line x1="647.70" y1="107.20" x2="672.10" y2="107.20" stroke="#333" stroke-width="1.4" />
<circle cx="534.40" cy="103.00" r="2.05" fill="#000"/>
<circle cx="537.50" cy="103.00" r="2.05" fill="#000"/>
<circle cx="535.70" cy="110.60" r="2.05" fill="#000"/>
<circle cx="526.20" cy="118.50" r="2.05" fill="#000"/>
<circle cx="532.40" cy="120.50" r="2.05" fill="#000"/>
<circle cx="539.00" cy="119.50" r="2.05" fill="#000"/>
<circle cx="545.70" cy="120.80" r="2.05" fill="#000"/>
<circle cx="529.30" cy="122.60" r="2.05" fill="#000"/>
<circle cx="536.00" cy="122.40" r="2.05" fill="#000"/>
<circle cx="541.00" cy="121.80" r="2.05" fill="#000"/>
<circle cx="525.70" cy="127.30" r="2.05" fill="#000"/>
<circle cx="531.90" cy="127.50" r="2.05" fill="#000"/>
<circle cx="539.00" cy="127.00" r="2.05" fill="#000"/>
<circle cx="542.60" cy="127.50" r="2.05" fill="#000"/>
<circle cx="545.70" cy="127.70" r="2.05" fill="#000"/>
<circle cx="529.30" cy="129.70" r="2.05" fill="#000"/>
<circle cx="536.00" cy="129.70" r="2.05" fill="#000"/>
<circle cx="539.00" cy="133.30" r="2.05" fill="#000"/>
<circle cx="532.40" cy="135.40" r="2.05" fill="#000"/>
<rect x="564.35" y="45.45" width="4.7" height="4.7" fill="#E8A830"/>
<rect x="561.45" y="83.25" width="4.7" height="4.7" fill="#E8A830"/>
<rect x="567.65" y="83.65" width="4.7" height="4.7" fill="#E8A830"/>
<rect x="561.45" y="90.95" width="4.7" height="4.7" fill="#E8A830"/>
<rect x="567.85" y="96.55" width="4.7" height="4.7" fill="#E8A830"/>
<rect x="555.05" y="104.95" width="4.7" height="4.7" fill="#E8A830"/>
<rect x="561.15" y="104.95" width="4.7" height="4.7" fill="#E8A830"/>
<rect x="573.95" y="103.35" width="4.7" height="4.7" fill="#E8A830"/>
<rect x="567.85" y="106.45" width="4.7" height="4.7" fill="#E8A830"/>
<rect x="555.05" y="112.05" width="4.7" height="4.7" fill="#E8A830"/>
<rect x="561.15" y="112.05" width="4.7" height="4.7" fill="#E8A830"/>
<rect x="573.95" y="109.55" width="4.7" height="4.7" fill="#E8A830"/>
<rect x="567.85" y="114.15" width="4.7" height="4.7" fill="#E8A830"/>
<rect x="561.15" y="118.15" width="4.7" height="4.7" fill="#E8A830"/>
<rect x="555.05" y="127.95" width="4.7" height="4.7" fill="#E8A830"/>
<rect x="561.15" y="125.35" width="4.7" height="4.7" fill="#E8A830"/>
<rect x="567.85" y="126.35" width="4.7" height="4.7" fill="#E8A830"/>
<rect x="573.95" y="125.35" width="4.7" height="4.7" fill="#E8A830"/>
<path d="M588.70,97.48 L591.40,102.34 L586.00,102.34Z" fill="#3DAA7B"/>
<path d="M591.30,97.08 L594.00,101.94 L588.60,101.94Z" fill="#3DAA7B"/>
<path d="M594.90,96.68 L597.60,101.54 L592.20,101.54Z" fill="#3DAA7B"/>
<path d="M607.80,92.68 L610.50,97.54 L605.10,97.54Z" fill="#3DAA7B"/>
<path d="M604.70,97.08 L607.40,101.94 L602.00,101.94Z" fill="#3DAA7B"/>
<path d="M598.40,101.08 L601.10,105.94 L595.70,105.94Z" fill="#3DAA7B"/>
<path d="M601.60,99.28 L604.30,104.14 L598.90,104.14Z" fill="#3DAA7B"/>
<path d="M607.80,101.08 L610.50,105.94 L605.10,105.94Z" fill="#3DAA7B"/>
<path d="M595.30,107.78 L598.00,112.64 L592.60,112.64Z" fill="#3DAA7B"/>
<path d="M601.10,106.88 L603.80,111.74 L598.40,111.74Z" fill="#3DAA7B"/>
<path d="M598.00,110.38 L600.70,115.24 L595.30,115.24Z" fill="#3DAA7B"/>
<path d="M594.90,110.88 L597.60,115.74 L592.20,115.74Z" fill="#3DAA7B"/>
<path d="M598.00,119.28 L600.70,124.14 L595.30,124.14Z" fill="#3DAA7B"/>
<path d="M594.40,125.48 L597.10,130.34 L591.70,130.34Z" fill="#3DAA7B"/>
<path d="M598.00,127.28 L600.70,132.14 L595.30,132.14Z" fill="#3DAA7B"/>
<path d="M601.10,130.38 L603.80,135.24 L598.40,135.24Z" fill="#3DAA7B"/>
<path d="M594.90,134.88 L597.60,139.74 L592.20,139.74Z" fill="#3DAA7B"/>
<path d="M629.20,87.22 L632.00,82.18 L626.40,82.18Z" fill="#5FA9DD"/>
<path d="M627.30,100.32 L630.10,95.28 L624.50,95.28Z" fill="#5FA9DD"/>
<path d="M626.00,106.12 L628.80,101.08 L623.20,101.08Z" fill="#5FA9DD"/>
<path d="M635.30,105.22 L638.10,100.18 L632.50,100.18Z" fill="#5FA9DD"/>
<path d="M630.40,109.22 L633.20,104.18 L627.60,104.18Z" fill="#5FA9DD"/>
<path d="M628.20,108.82 L631.00,103.78 L625.40,103.78Z" fill="#5FA9DD"/>
<path d="M619.30,119.02 L622.10,113.98 L616.50,113.98Z" fill="#5FA9DD"/>
<path d="M623.80,118.42 L626.60,113.38 L621.00,113.38Z" fill="#5FA9DD"/>
<path d="M628.70,116.62 L631.50,111.58 L625.90,111.58Z" fill="#5FA9DD"/>
<path d="M635.30,116.62 L638.10,111.58 L632.50,111.58Z" fill="#5FA9DD"/>
<path d="M622.40,122.02 L625.20,116.98 L619.60,116.98Z" fill="#5FA9DD"/>
<path d="M629.10,120.52 L631.90,115.48 L626.30,115.48Z" fill="#5FA9DD"/>
<path d="M634.40,121.42 L637.20,116.38 L631.60,116.38Z" fill="#5FA9DD"/>
<path d="M638.80,121.42 L641.60,116.38 L636.00,116.38Z" fill="#5FA9DD"/>
<path d="M626.50,123.02 L629.30,117.98 L623.70,117.98Z" fill="#5FA9DD"/>
<path d="M632.00,123.52 L634.80,118.48 L629.20,118.48Z" fill="#5FA9DD"/>
<path d="M629.10,126.02 L631.90,120.98 L626.30,120.98Z" fill="#5FA9DD"/>
<path d="M629.10,131.62 L631.90,126.58 L626.30,126.58Z" fill="#5FA9DD"/>
<path d="M659.90,66.80 L662.70,69.60 L659.90,72.40 L657.10,69.60Z" fill="#DB8FC0"/>
<path d="M659.90,80.90 L662.70,83.70 L659.90,86.50 L657.10,83.70Z" fill="#DB8FC0"/>
<path d="M657.90,87.60 L660.70,90.40 L657.90,93.20 L655.10,90.40Z" fill="#DB8FC0"/>
<path d="M654.10,93.10 L656.90,95.90 L654.10,98.70 L651.30,95.90Z" fill="#DB8FC0"/>
<path d="M657.90,93.70 L660.70,96.50 L657.90,99.30 L655.10,96.50Z" fill="#DB8FC0"/>
<path d="M661.80,92.50 L664.60,95.30 L661.80,98.10 L659.00,95.30Z" fill="#DB8FC0"/>
<path d="M665.60,101.00 L668.40,103.80 L665.60,106.60 L662.80,103.80Z" fill="#DB8FC0"/>
<path d="M658.60,105.70 L661.40,108.50 L658.60,111.30 L655.80,108.50Z" fill="#DB8FC0"/>
<path d="M661.80,107.50 L664.60,110.30 L661.80,113.10 L659.00,110.30Z" fill="#DB8FC0"/>
<path d="M665.60,108.20 L668.40,111.00 L665.60,113.80 L662.80,111.00Z" fill="#DB8FC0"/>
<path d="M669.50,110.80 L672.30,113.60 L669.50,116.40 L666.70,113.60Z" fill="#DB8FC0"/>
<path d="M650.90,112.30 L653.70,115.10 L650.90,117.90 L648.10,115.10Z" fill="#DB8FC0"/>
<path d="M654.10,110.40 L656.90,113.20 L654.10,116.00 L651.30,113.20Z" fill="#DB8FC0"/>
<path d="M657.90,112.30 L660.70,115.10 L657.90,117.90 L655.10,115.10Z" fill="#DB8FC0"/>
<path d="M662.40,115.50 L665.20,118.30 L662.40,121.10 L659.60,118.30Z" fill="#DB8FC0"/>
<path d="M665.60,116.80 L668.40,119.60 L665.60,122.40 L662.80,119.60Z" fill="#DB8FC0"/>
<path d="M654.10,117.50 L656.90,120.30 L654.10,123.10 L651.30,120.30Z" fill="#DB8FC0"/>
<path d="M661.80,121.90 L664.60,124.70 L661.80,127.50 L659.00,124.70Z" fill="#DB8FC0"/>
<path d="M657.90,126.40 L660.70,129.20 L657.90,132.00 L655.10,129.20Z" fill="#DB8FC0"/>
<text transform="translate(540.40,156.90) rotate(-45)" font-size="8.4" font-weight="normal" text-anchor="end" fill="#151515" >SH</text>
<text transform="translate(569.40,156.90) rotate(-45)" font-size="8.4" font-weight="normal" text-anchor="end" fill="#151515" >OVX/AI</text>
<text transform="translate(608.10,156.90) rotate(-45)" font-size="8.4" font-weight="normal" text-anchor="end" fill="#151515" >OVX/AI+LIV</text>
<text transform="translate(636.80,156.90) rotate(-45)" font-size="8.4" font-weight="normal" text-anchor="end" fill="#151515" >OVX/AI+ZA</text>
<text transform="translate(672.50,156.90) rotate(-45)" font-size="8.4" font-weight="normal" text-anchor="end" fill="#151515" >OVX/AI+LIV/ZA</text>
<text x="7.40" y="225.30" font-size="10" font-weight="bold" text-anchor="start" fill="#111" >d</text>
<rect x="16.2" y="254.2" width="77.1" height="104.7" fill="#0000FC"/>
<text x="56.70" y="244.40" font-size="9.5" font-weight="normal" text-anchor="middle" fill="#1e1e1e" >SH</text>
<rect x="104.9" y="254.2" width="77.1" height="104.7" fill="#0000FC"/>
<text x="145.60" y="244.40" font-size="9.5" font-weight="normal" text-anchor="middle" fill="#1e1e1e" >OVX/AI</text>
<rect x="193.9" y="254.2" width="77.1" height="104.7" fill="#0000FC"/>
<text x="233.70" y="244.40" font-size="9.5" font-weight="normal" text-anchor="middle" fill="#1e1e1e" >OVX/AI + LIV</text>
<rect x="282.6" y="254.2" width="77.1" height="104.7" fill="#0000FC"/>
<text x="322.10" y="243.80" font-size="9.5" font-weight="normal" text-anchor="middle" fill="#1e1e1e" >OVX/AI+ZA</text>
<rect x="371.5" y="254.2" width="77.1" height="104.7" fill="#0000FC"/>
<text x="411.00" y="244.40" font-size="9.5" font-weight="normal" text-anchor="middle" fill="#1e1e1e" >OVX/AI+LIV/ZA</text>
<path d="M124.7,265.7 L131.9,263.9 L140.9,263.9 L151.6,264.8 L158.8,265.1 L163.3,267.4 L162.4,271.0 L157.0,273.7 L153.4,278.2 L149.8,278.2 L146.2,277.3 L143.6,280.9 L140.9,286.3 L135.5,298.8 L131.9,307.8 L129.2,318.6 L128.3,329.3 L128.3,340.1 L128.0,346.3 L124.7,347.2 L120.2,344.5 L119.3,334.7 L121.1,316.8 L122.9,298.8 L123.8,280.9Z" fill="url(#bg1)" stroke="#444" stroke-width="0.7"/>
<path d="M124.7,265.7 L131.9,263.9 L140.9,263.9 L151.6,264.8 L158.8,265.1 L163.3,267.4 L162.4,271.0 L157.0,273.7 L153.4,278.2 L149.8,278.2 L146.2,277.3 L143.6,280.9 L140.9,286.3 L135.5,298.8 L131.9,307.8 L129.2,318.6 L128.3,329.3 L128.3,340.1 L128.0,346.3 L124.7,347.2 L120.2,344.5 L119.3,334.7 L121.1,316.8 L122.9,298.8 L123.8,280.9Z" fill="#000" filter="url(#speck)"/>
<path d="M215.5,266.6 L222.7,265.1 L229.9,266.6 L232.6,270.1 L238.8,271.9 L246.0,272.8 L246.9,275.5 L242.4,279.1 L237.0,284.5 L231.7,291.7 L226.3,297.0 L220.9,302.4 L217.3,311.4 L216.4,322.1 L217.3,332.9 L216.4,343.7 L214.6,351.7 L212.8,347.2 L211.9,332.9 L210.1,316.8 L209.2,307.8 L211.9,298.8 L212.8,284.5 L213.7,271.9Z" fill="url(#bg2)" stroke="#444" stroke-width="0.7"/>
<path d="M215.5,266.6 L222.7,265.1 L229.9,266.6 L232.6,270.1 L238.8,271.9 L246.0,272.8 L246.9,275.5 L242.4,279.1 L237.0,284.5 L231.7,291.7 L226.3,297.0 L220.9,302.4 L217.3,311.4 L216.4,322.1 L217.3,332.9 L216.4,343.7 L214.6,351.7 L212.8,347.2 L211.9,332.9 L210.1,316.8 L209.2,307.8 L211.9,298.8 L212.8,284.5 L213.7,271.9Z" fill="#000" filter="url(#speck)"/>
<path d="M301.7,271.9 L308.9,270.5 L317.9,270.5 L326.8,271.9 L334.9,273.7 L337.6,276.4 L334.0,278.2 L328.6,279.1 L323.2,283.6 L317.9,289.9 L312.5,300.6 L308.9,311.4 L307.1,322.1 L306.2,332.9 L305.3,338.3 L301.7,337.4 L299.0,329.3 L299.0,313.2 L299.9,298.8 L300.8,286.3Z" fill="url(#bg3)" stroke="#444" stroke-width="0.7"/>
<path d="M301.7,271.9 L308.9,270.5 L317.9,270.5 L326.8,271.9 L334.9,273.7 L337.6,276.4 L334.0,278.2 L328.6,279.1 L323.2,283.6 L317.9,289.9 L312.5,300.6 L308.9,311.4 L307.1,322.1 L306.2,332.9 L305.3,338.3 L301.7,337.4 L299.0,329.3 L299.0,313.2 L299.9,298.8 L300.8,286.3Z" fill="#000" filter="url(#speck)"/>
<path d="M401.5,265.7 L408.7,264.8 L415.8,266.6 L421.2,265.7 L426.6,264.8 L432.0,268.3 L436.4,271.0 L433.8,275.5 L428.4,277.3 L424.8,274.6 L421.2,275.5 L415.8,280.9 L411.3,286.3 L406.9,297.0 L404.2,307.8 L403.3,322.1 L403.3,334.7 L403.3,346.3 L399.7,346.3 L397.9,332.9 L397.9,311.4 L398.8,298.8 L399.7,284.5 L400.6,271.9Z" fill="url(#bg4)" stroke="#444" stroke-width="0.7"/>
<path d="M401.5,265.7 L408.7,264.8 L415.8,266.6 L421.2,265.7 L426.6,264.8 L432.0,268.3 L436.4,271.0 L433.8,275.5 L428.4,277.3 L424.8,274.6 L421.2,275.5 L415.8,280.9 L411.3,286.3 L406.9,297.0 L404.2,307.8 L403.3,322.1 L403.3,334.7 L403.3,346.3 L399.7,346.3 L397.9,332.9 L397.9,311.4 L398.8,298.8 L399.7,284.5 L400.6,271.9Z" fill="#000" filter="url(#speck)"/>
<path d="M43.0,264.5 L48.0,263.5 L53.0,264.0 L55.0,266.0 L54.5,271.0 L52.5,274.0 L50.0,277.0 L48.0,281.5 L46.0,283.5 L44.5,290.0 L43.0,289.0 L42.6,281.0 L42.8,272.0Z" fill="#a8a8a8"/>
<path d="M43.0,264.5 L48.0,263.5 L53.0,264.0 L55.0,266.0 L54.5,271.0 L52.5,274.0 L50.0,277.0 L48.0,281.5 L46.0,283.5 L44.5,290.0 L43.0,289.0 L42.6,281.0 L42.8,272.0Z" fill="#000" filter="url(#speck2)"/>
<path d="M60.0,264.5 L66.0,263.6 L71.5,264.2 L72.5,266.5 L69.0,268.5 L64.0,268.2 L60.5,267.5Z" fill="#a8a8a8"/>
<path d="M60.0,264.5 L66.0,263.6 L71.5,264.2 L72.5,266.5 L69.0,268.5 L64.0,268.2 L60.5,267.5Z" fill="#000" filter="url(#speck2)"/>
<path d="M76.2,265.8 L79.5,265.5 L80.8,268.0 L80.2,271.8 L77.5,272.5 L76.0,270.0Z" fill="#a8a8a8"/>
<path d="M76.2,265.8 L79.5,265.5 L80.8,268.0 L80.2,271.8 L77.5,272.5 L76.0,270.0Z" fill="#000" filter="url(#speck2)"/>
<path d="M63.5,271.5 L66.5,270.5 L71.0,275.0 L75.5,280.5 L77.5,284.0 L75.5,286.5 L72.0,284.0 L67.5,278.0 L64.0,274.5Z" fill="#a8a8a8"/>
<path d="M63.5,271.5 L66.5,270.5 L71.0,275.0 L75.5,280.5 L77.5,284.0 L75.5,286.5 L72.0,284.0 L67.5,278.0 L64.0,274.5Z" fill="#000" filter="url(#speck2)"/>
<rect x="46.1" y="274.9" width="1.3" height="1.6" fill="#d0d0d0"/>
<rect x="50.9" y="282.2" width="1.5" height="1.6" fill="#bdbdbd"/>
<rect x="55.9" y="273.4" width="2.0" height="1.5" fill="#bdbdbd"/>
<rect x="46.0" y="267.0" width="2.1" height="1.3" fill="#d0d0d0"/>
<rect x="51.7" y="265.3" width="1.9" height="1.6" fill="#8a8a8a"/>
<rect x="53.1" y="280.5" width="1.2" height="1.6" fill="#4a4a4a"/>
<rect x="52.3" y="282.4" width="1.4" height="1.9" fill="#4a4a4a"/>
<rect x="55.5" y="266.7" width="1.3" height="0.9" fill="#4a4a4a"/>
<rect x="45.8" y="283.3" width="1.4" height="1.7" fill="#8a8a8a"/>
<rect x="48.5" y="280.7" width="1.6" height="1.5" fill="#4a4a4a"/>
<rect x="50.6" y="282.1" width="1.8" height="2.1" fill="#8a8a8a"/>
<rect x="55.9" y="277.4" width="1.0" height="2.0" fill="#d0d0d0"/>
<rect x="52.3" y="268.2" width="2.0" height="1.6" fill="#8a8a8a"/>
<rect x="44.6" y="273.6" width="1.7" height="1.5" fill="#8a8a8a"/>
<rect x="53.4" y="272.2" width="1.0" height="1.2" fill="#4a4a4a"/>
<rect x="54.3" y="264.9" width="1.7" height="0.9" fill="#8a8a8a"/>
<rect x="50.2" y="282.4" width="1.2" height="1.1" fill="#d0d0d0"/>
<rect x="47.0" y="265.5" width="1.6" height="0.8" fill="#bdbdbd"/>
<rect x="55.6" y="269.8" width="1.2" height="1.8" fill="#8a8a8a"/>
<rect x="47.1" y="283.2" width="2.1" height="1.3" fill="#4a4a4a"/>
<rect x="54.3" y="271.7" width="2.0" height="1.8" fill="#d0d0d0"/>
<rect x="51.1" y="282.8" width="1.5" height="1.4" fill="#bdbdbd"/>
<rect x="55.2" y="272.7" width="1.2" height="1.2" fill="#8a8a8a"/>
<rect x="43.1" y="272.3" width="1.6" height="0.8" fill="#bdbdbd"/>
<rect x="43.8" y="276.5" width="1.5" height="1.8" fill="#8a8a8a"/>
<rect x="50.9" y="269.6" width="1.5" height="1.6" fill="#d0d0d0"/>
<rect x="55.5" y="269.0" width="1.4" height="1.6" fill="#8a8a8a"/>
<rect x="45.3" y="267.7" width="1.9" height="2.0" fill="#8a8a8a"/>
<rect x="46.9" y="271.5" width="1.9" height="0.8" fill="#bdbdbd"/>
<rect x="47.0" y="268.5" width="1.9" height="1.1" fill="#bdbdbd"/>
<rect x="51.8" y="277.0" width="0.9" height="1.6" fill="#8a8a8a"/>
<rect x="51.8" y="268.5" width="1.9" height="2.1" fill="#d0d0d0"/>
<rect x="47.4" y="277.0" width="2.0" height="1.4" fill="#bdbdbd"/>
<rect x="53.2" y="264.7" width="2.1" height="1.2" fill="#bdbdbd"/>
<rect x="54.2" y="270.8" width="2.0" height="0.9" fill="#8a8a8a"/>
<rect x="50.7" y="272.4" width="1.5" height="2.0" fill="#4a4a4a"/>
<rect x="47.5" y="272.3" width="1.4" height="1.4" fill="#4a4a4a"/>
<rect x="45.0" y="264.1" width="2.1" height="2.0" fill="#4a4a4a"/>
<rect x="50.3" y="283.7" width="1.8" height="0.8" fill="#4a4a4a"/>
<rect x="53.9" y="277.3" width="1.5" height="1.2" fill="#8a8a8a"/>
<rect x="79.4" y="286.3" width="2.0" height="2.2" fill="#c8c8c8"/>
<rect x="77.4" y="264.2" width="2.1" height="1.8" fill="#a0a0a0"/>
<rect x="79.5" y="287.3" width="1.6" height="0.8" fill="#c8c8c8"/>
<rect x="62.1" y="271.1" width="1.7" height="1.5" fill="#404040"/>
<rect x="59.3" y="287.7" width="1.0" height="1.0" fill="#404040"/>
<rect x="77.5" y="264.7" width="1.1" height="1.0" fill="#c8c8c8"/>
<rect x="62.1" y="284.4" width="2.1" height="1.9" fill="#c8c8c8"/>
<rect x="69.7" y="278.4" width="1.4" height="1.9" fill="#a0a0a0"/>
<rect x="64.4" y="277.2" width="1.4" height="1.5" fill="#c8c8c8"/>
<rect x="78.6" y="283.9" width="0.9" height="0.9" fill="#404040"/>
<rect x="81.4" y="286.1" width="0.9" height="1.5" fill="#707070"/>
<rect x="61.8" y="264.9" width="1.3" height="1.3" fill="#707070"/>
<rect x="66.7" y="268.2" width="1.3" height="1.0" fill="#c8c8c8"/>
<rect x="75.2" y="273.3" width="0.9" height="1.0" fill="#707070"/>
<rect x="69.1" y="280.6" width="1.6" height="1.7" fill="#c8c8c8"/>
<rect x="73.0" y="274.7" width="1.3" height="1.5" fill="#707070"/>
<rect x="68.1" y="281.7" width="1.4" height="1.1" fill="#707070"/>
<rect x="74.7" y="264.9" width="1.4" height="1.4" fill="#c8c8c8"/>
<rect x="80.5" y="273.1" width="2.1" height="1.9" fill="#707070"/>
<rect x="60.9" y="281.6" width="2.1" height="1.8" fill="#404040"/>
<rect x="74.0" y="282.8" width="1.6" height="0.9" fill="#c8c8c8"/>
<rect x="69.4" y="269.4" width="1.3" height="1.5" fill="#c8c8c8"/>
<rect x="73.8" y="273.1" width="1.9" height="1.3" fill="#c8c8c8"/>
<rect x="58.6" y="266.1" width="1.5" height="1.8" fill="#707070"/>
<rect x="71.9" y="284.6" width="0.9" height="1.9" fill="#a0a0a0"/>
<rect x="60.6" y="283.2" width="2.1" height="0.9" fill="#707070"/>
<rect x="78.9" y="267.9" width="0.9" height="2.2" fill="#a0a0a0"/>
<rect x="68.9" y="281.9" width="2.1" height="1.2" fill="#404040"/>
<rect x="80.5" y="278.0" width="2.2" height="1.3" fill="#a0a0a0"/>
<rect x="81.4" y="274.1" width="1.8" height="1.0" fill="#404040"/>
<rect x="61.7" y="273.8" width="2.0" height="1.0" fill="#404040"/>
<rect x="76.0" y="287.7" width="1.5" height="1.4" fill="#a0a0a0"/>
<rect x="61.3" y="283.3" width="1.0" height="1.5" fill="#a0a0a0"/>
<rect x="78.4" y="277.5" width="1.9" height="1.7" fill="#404040"/>
<rect x="72.3" y="278.8" width="2.2" height="2.0" fill="#707070"/>
<rect x="58.6" y="275.9" width="1.3" height="1.0" fill="#707070"/>
<rect x="63.7" y="276.0" width="2.0" height="1.4" fill="#404040"/>
<rect x="74.8" y="268.6" width="1.6" height="2.1" fill="#c8c8c8"/>
<rect x="69.6" y="282.5" width="2.0" height="1.4" fill="#c8c8c8"/>
<rect x="69.2" y="269.2" width="1.1" height="1.8" fill="#c8c8c8"/>
<rect x="81.0" y="286.1" width="1.1" height="1.1" fill="#707070"/>
<rect x="61.3" y="279.8" width="1.7" height="0.9" fill="#707070"/>
<rect x="62.1" y="264.2" width="1.1" height="0.9" fill="#c8c8c8"/>
<rect x="60.8" y="270.1" width="2.1" height="0.9" fill="#404040"/>
<rect x="71.9" y="281.2" width="0.8" height="1.3" fill="#404040"/>
<rect x="40.9" y="305.5" width="1.3" height="2.0" fill="#d8d8d8"/>
<rect x="42.5" y="306.2" width="0.8" height="1.2" fill="#d8d8d8"/>
<rect x="45.3" y="289.0" width="1.5" height="1.0" fill="#8a8a8a"/>
<rect x="40.3" y="324.1" width="1.1" height="1.9" fill="#8a8a8a"/>
<rect x="45.5" y="288.6" width="1.0" height="1.7" fill="#c8c8c8"/>
<rect x="40.9" y="323.3" width="0.8" height="1.3" fill="#a8a8a8"/>
<rect x="41.8" y="322.0" width="0.8" height="1.4" fill="#d8d8d8"/>
<rect x="45.4" y="289.6" width="0.8" height="1.3" fill="#d8d8d8"/>
<rect x="42.0" y="316.4" width="1.1" height="1.3" fill="#a8a8a8"/>
<rect x="39.2" y="325.7" width="0.9" height="1.7" fill="#d8d8d8"/>
<rect x="41.7" y="304.3" width="1.0" height="2.2" fill="#c8c8c8"/>
<rect x="41.0" y="311.7" width="1.3" height="1.6" fill="#8a8a8a"/>
<rect x="39.1" y="340.6" width="1.4" height="0.9" fill="#d8d8d8"/>
<rect x="38.4" y="334.5" width="0.9" height="1.0" fill="#c8c8c8"/>
<rect x="42.9" y="317.0" width="0.8" height="1.9" fill="#d8d8d8"/>
<rect x="40.4" y="323.5" width="1.6" height="1.0" fill="#a8a8a8"/>
<rect x="40.8" y="335.3" width="1.2" height="1.1" fill="#a8a8a8"/>
<rect x="42.5" y="294.5" width="1.4" height="0.8" fill="#d8d8d8"/>
<rect x="41.2" y="337.3" width="1.0" height="1.7" fill="#8a8a8a"/>
<rect x="42.7" y="321.3" width="1.3" height="1.3" fill="#d8d8d8"/>
<rect x="43.2" y="283.9" width="1.3" height="1.0" fill="#a8a8a8"/>
<rect x="41.9" y="312.5" width="1.1" height="1.1" fill="#a8a8a8"/>
<rect x="44.3" y="284.3" width="1.3" height="1.5" fill="#8a8a8a"/>
<rect x="40.6" y="341.5" width="0.8" height="2.1" fill="#c8c8c8"/>
<rect x="44.8" y="283.6" width="1.2" height="1.6" fill="#c8c8c8"/>
<rect x="38.7" y="339.6" width="1.5" height="1.9" fill="#a8a8a8"/>
<rect x="45.3" y="287.0" width="1.4" height="0.9" fill="#c8c8c8"/>
<rect x="39.9" y="327.9" width="1.4" height="2.3" fill="#a8a8a8"/>
<rect x="43.0" y="309.1" width="1.1" height="1.0" fill="#c8c8c8"/>
<rect x="43.5" y="307.3" width="1.3" height="1.4" fill="#d8d8d8"/>
<rect x="40.8" y="325.4" width="1.1" height="1.8" fill="#8a8a8a"/>
<rect x="44.2" y="283.4" width="1.3" height="1.5" fill="#d8d8d8"/>
<rect x="40.3" y="337.8" width="1.0" height="1.4" fill="#8a8a8a"/>
<rect x="40.2" y="319.0" width="0.7" height="1.1" fill="#8a8a8a"/>
<rect x="43.6" y="290.9" width="0.9" height="1.1" fill="#a8a8a8"/>
<rect x="41.3" y="318.2" width="1.3" height="1.0" fill="#a8a8a8"/>
<rect x="40.9" y="309.4" width="1.5" height="1.4" fill="#8a8a8a"/>
<rect x="43.0" y="307.3" width="0.7" height="1.4" fill="#d8d8d8"/>
<rect x="43.3" y="312.6" width="1.5" height="1.2" fill="#d8d8d8"/>
<rect x="40.7" y="311.4" width="1.3" height="1.4" fill="#c8c8c8"/>
<rect x="42.3" y="318.9" width="1.0" height="2.4" fill="#d8d8d8"/>
<rect x="41.8" y="330.9" width="1.1" height="1.7" fill="#c8c8c8"/>
<rect x="40.5" y="332.5" width="1.0" height="0.9" fill="#d8d8d8"/>
<rect x="39.5" y="342.1" width="0.7" height="0.8" fill="#c8c8c8"/>
<rect x="44.4" y="283.2" width="1.1" height="1.1" fill="#8a8a8a"/>
<rect x="45.1" y="294.4" width="1.1" height="2.1" fill="#8a8a8a"/>
<rect x="37.7" y="340.3" width="1.0" height="1.8" fill="#d8d8d8"/>
<rect x="43.3" y="287.4" width="1.5" height="1.0" fill="#d8d8d8"/>
<rect x="41.6" y="315.9" width="1.4" height="1.4" fill="#d8d8d8"/>
<rect x="40.1" y="333.8" width="1.5" height="1.4" fill="#d8d8d8"/>
<rect x="41.9" y="309.2" width="1.3" height="1.4" fill="#a8a8a8"/>
<rect x="42.6" y="313.4" width="1.5" height="1.9" fill="#d8d8d8"/>
<rect x="43.1" y="284.6" width="1.4" height="2.1" fill="#c8c8c8"/>
<rect x="41.0" y="329.0" width="0.8" height="1.2" fill="#c8c8c8"/>
<rect x="41.0" y="336.5" width="1.1" height="2.2" fill="#8a8a8a"/>
<rect x="37.2" y="343.8" width="0.9" height="2.1" fill="#c8c8c8"/>
<rect x="42.0" y="303.0" width="1.1" height="2.1" fill="#a8a8a8"/>
<rect x="41.6" y="296.9" width="0.8" height="1.8" fill="#c8c8c8"/>
<rect x="43.1" y="289.0" width="0.9" height="2.2" fill="#d8d8d8"/>
<rect x="43.2" y="313.3" width="1.0" height="2.2" fill="#a8a8a8"/>
<rect x="42.4" y="311.0" width="0.7" height="2.1" fill="#c8c8c8"/>
<rect x="38.3" y="335.3" width="1.5" height="1.2" fill="#c8c8c8"/>
<rect x="40.9" y="310.8" width="1.4" height="1.8" fill="#d8d8d8"/>
<rect x="41.7" y="329.2" width="1.0" height="1.8" fill="#d8d8d8"/>
<rect x="39.5" y="330.2" width="1.6" height="1.5" fill="#d8d8d8"/>
<rect x="43.5" y="294.8" width="1.1" height="2.0" fill="#c8c8c8"/>
<rect x="41.5" y="303.2" width="1.4" height="2.3" fill="#8a8a8a"/>
<rect x="42.7" y="308.2" width="1.2" height="1.1" fill="#8a8a8a"/>
<rect x="38.3" y="334.0" width="0.9" height="1.5" fill="#8a8a8a"/>
<rect x="42.1" y="295.5" width="1.5" height="2.0" fill="#d8d8d8"/>
<rect x="44.5" y="340" width="2" height="2.5" fill="#bbb"/><rect x="46.5" y="345" width="2" height="1.5" fill="#aaa"/>
<rect x="157.9" y="287.0" width="1.1" height="1.5" fill="#e0e0e0"/>
<rect x="158.5" y="285.6" width="1.3" height="1.1" fill="#e0e0e0"/>
<rect x="157.6" y="280.2" width="1.5" height="0.9" fill="#c8c8c8"/>
<rect x="130.8" y="276.2" width="1.2" height="0.8" fill="#9a9a9a"/>
<rect x="131.2" y="292.9" width="1.0" height="1.1" fill="#9a9a9a"/>
<rect x="144.0" y="277.5" width="1.3" height="0.9" fill="#9a9a9a"/>
<rect x="139.0" y="283.5" width="0.9" height="0.9" fill="#e0e0e0"/>
<rect x="138.5" y="282.5" width="1.4" height="1.2" fill="#c8c8c8"/>
<rect x="142.9" y="298.3" width="1.1" height="1.5" fill="#c8c8c8"/>
<rect x="140.8" y="295.9" width="1.0" height="1.1" fill="#9a9a9a"/>
<rect x="225.7" y="303.7" width="1.0" height="1.4" fill="#c8c8c8"/>
<rect x="216.2" y="324.6" width="0.9" height="0.8" fill="#c8c8c8"/>
<rect x="216.0" y="347.0" width="1.4" height="1.0" fill="#9a9a9a"/>
<rect x="227.8" y="287.2" width="0.9" height="0.8" fill="#9a9a9a"/>
<rect x="226.9" y="337.6" width="1.2" height="1.4" fill="#9a9a9a"/>
<rect x="219.7" y="300.6" width="1.4" height="1.1" fill="#9a9a9a"/>
<rect x="220.1" y="286.8" width="0.8" height="1.5" fill="#c8c8c8"/>
<rect x="227.0" y="335.9" width="1.0" height="0.9" fill="#9a9a9a"/>
<rect x="222.1" y="337.4" width="1.2" height="1.0" fill="#c8c8c8"/>
<rect x="216.5" y="315.6" width="0.8" height="1.4" fill="#9a9a9a"/>
<rect x="221.6" y="326.9" width="1.5" height="1.4" fill="#e0e0e0"/>
<rect x="222.2" y="308.4" width="1.2" height="1.0" fill="#c8c8c8"/>
<rect x="224.2" y="347.5" width="1.2" height="1.1" fill="#9a9a9a"/>
<rect x="221.3" y="302.5" width="1.0" height="1.0" fill="#e0e0e0"/>
<rect x="217.9" y="304.8" width="1.2" height="1.1" fill="#c8c8c8"/>
<rect x="225.9" y="343.7" width="1.2" height="0.8" fill="#e0e0e0"/>
<rect x="223.2" y="292.3" width="0.9" height="1.3" fill="#9a9a9a"/>
<rect x="217.2" y="327.1" width="1.1" height="1.2" fill="#e0e0e0"/>
<rect x="221.4" y="304.6" width="1.0" height="1.3" fill="#9a9a9a"/>
<rect x="219.8" y="302.1" width="1.5" height="1.5" fill="#9a9a9a"/>
<rect x="223.3" y="320.0" width="0.8" height="1.1" fill="#9a9a9a"/>
<rect x="227.8" y="290.0" width="1.0" height="0.9" fill="#c8c8c8"/>
<rect x="224.4" y="292.3" width="1.2" height="0.9" fill="#c8c8c8"/>
<rect x="227.3" y="346.4" width="1.3" height="1.1" fill="#9a9a9a"/>
<rect x="221.5" y="303.2" width="1.2" height="0.9" fill="#9a9a9a"/>
<rect x="227.5" y="294.1" width="1.4" height="0.9" fill="#9a9a9a"/>
<rect x="224.1" y="325.8" width="0.9" height="0.8" fill="#e0e0e0"/>
<rect x="218.1" y="296.9" width="1.4" height="1.4" fill="#c8c8c8"/>
<rect x="222.3" y="294.6" width="0.9" height="1.3" fill="#9a9a9a"/>
<rect x="220.7" y="347.2" width="1.0" height="0.9" fill="#c8c8c8"/>
<rect x="219.5" y="309.2" width="1.5" height="1.2" fill="#c8c8c8"/>
<rect x="216.1" y="308.4" width="0.9" height="1.1" fill="#c8c8c8"/>
<rect x="220.3" y="344.9" width="1.1" height="1.3" fill="#9a9a9a"/>
<rect x="221.7" y="331.6" width="1.2" height="1.4" fill="#9a9a9a"/>
<rect x="222.8" y="314.2" width="1.2" height="1.1" fill="#e0e0e0"/>
<rect x="221.5" y="309.2" width="1.3" height="1.0" fill="#e0e0e0"/>
<rect x="226.2" y="296.3" width="1.5" height="1.4" fill="#c8c8c8"/>
<rect x="219.8" y="337.9" width="0.9" height="1.2" fill="#c8c8c8"/>
<rect x="220.9" y="340.0" width="0.9" height="0.8" fill="#c8c8c8"/>
<rect x="225.5" y="347.5" width="1.3" height="1.2" fill="#9a9a9a"/>
<rect x="310.2" y="307.0" width="1.1" height="0.9" fill="#e0e0e0"/>
<rect x="313.2" y="302.8" width="1.2" height="1.2" fill="#e0e0e0"/>
<rect x="316.6" y="310.1" width="1.5" height="1.5" fill="#e0e0e0"/>
<rect x="328.0" y="294.3" width="1.5" height="1.0" fill="#c8c8c8"/>
<rect x="322.4" y="291.1" width="1.5" height="1.3" fill="#c8c8c8"/>
<rect x="314.8" y="328.3" width="1.1" height="1.1" fill="#e0e0e0"/>
<rect x="326.9" y="288.8" width="1.2" height="1.2" fill="#e0e0e0"/>
<rect x="309.2" y="300.9" width="1.2" height="1.2" fill="#9a9a9a"/>
<rect x="309.4" y="322.7" width="1.1" height="1.5" fill="#9a9a9a"/>
<rect x="320.3" y="282.8" width="1.1" height="0.9" fill="#e0e0e0"/>
<rect x="328.8" y="315.6" width="1.1" height="1.0" fill="#e0e0e0"/>
<rect x="316.9" y="302.0" width="1.4" height="1.3" fill="#c8c8c8"/>
<rect x="322.0" y="287.3" width="1.0" height="1.1" fill="#e0e0e0"/>
<rect x="308.0" y="324.3" width="0.9" height="1.1" fill="#c8c8c8"/>
<rect x="308.7" y="306.9" width="1.4" height="1.2" fill="#e0e0e0"/>
<rect x="316.7" y="316.1" width="1.4" height="0.9" fill="#9a9a9a"/>
<rect x="411.9" y="280.2" width="1.4" height="1.1" fill="#9a9a9a"/>
<rect x="404.8" y="292.9" width="1.2" height="0.9" fill="#c8c8c8"/>
<rect x="410.8" y="277.8" width="0.8" height="1.0" fill="#c8c8c8"/>
<rect x="409.4" y="339.0" width="1.1" height="0.9" fill="#c8c8c8"/>
<rect x="409.7" y="301.4" width="1.2" height="1.3" fill="#9a9a9a"/>
<rect x="406.7" y="315.5" width="1.3" height="1.4" fill="#c8c8c8"/>
<rect x="408.7" y="323.2" width="1.5" height="0.8" fill="#c8c8c8"/>
<rect x="407.2" y="334.1" width="1.2" height="0.9" fill="#e0e0e0"/>
<rect x="407.3" y="300.5" width="1.2" height="1.4" fill="#c8c8c8"/>
<rect x="411.4" y="337.1" width="0.8" height="1.2" fill="#e0e0e0"/>
<rect x="409.8" y="311.0" width="0.9" height="1.0" fill="#9a9a9a"/>
<rect x="413.7" y="334.4" width="1.1" height="1.0" fill="#9a9a9a"/>
<rect x="411.6" y="307.9" width="0.9" height="1.0" fill="#e0e0e0"/>
<rect x="404.7" y="308.1" width="1.2" height="1.0" fill="#e0e0e0"/>
<rect x="414.1" y="322.2" width="0.9" height="0.8" fill="#9a9a9a"/>
<rect x="414.2" y="314.8" width="1.1" height="1.4" fill="#c8c8c8"/>
<rect x="413.7" y="335.8" width="0.9" height="1.4" fill="#9a9a9a"/>
<rect x="413.9" y="293.4" width="1.3" height="1.0" fill="#c8c8c8"/>
<rect x="408.0" y="329.9" width="1.4" height="0.8" fill="#9a9a9a"/>
<rect x="407.8" y="287.2" width="1.0" height="1.0" fill="#c8c8c8"/>
<rect x="412.0" y="295.1" width="0.9" height="1.0" fill="#9a9a9a"/>
<rect x="405.2" y="283.4" width="1.1" height="0.9" fill="#e0e0e0"/>
<rect x="407.7" y="287.8" width="1.3" height="1.2" fill="#e0e0e0"/>
<rect x="410.0" y="312.6" width="1.2" height="1.1" fill="#c8c8c8"/>
<rect x="404.0" y="308.5" width="1.1" height="0.8" fill="#c8c8c8"/>
<rect x="406.5" y="333.1" width="1.3" height="1.0" fill="#e0e0e0"/>
<rect x="415.8" y="295.5" width="1.5" height="1.1" fill="#c8c8c8"/>
<rect x="404.5" y="300.5" width="1.4" height="0.9" fill="#9a9a9a"/>
<rect x="404.4" y="307.9" width="1.4" height="1.1" fill="#e0e0e0"/>
<rect x="405.0" y="334.7" width="1.1" height="0.8" fill="#9a9a9a"/>
<text x="91.10" y="350.90" font-size="6.8" font-weight="normal" text-anchor="end" fill="#fff" font-style="italic">1000 &#181;m</text>
<line x1="69.10" y1="355.30" x2="85.70" y2="355.30" stroke="#e8e8ff" stroke-width="0.8" />
<line x1="69.10" y1="353.90" x2="69.10" y2="356.70" stroke="#e8e8ff" stroke-width="0.7" />
<line x1="85.70" y1="353.90" x2="85.70" y2="356.70" stroke="#e8e8ff" stroke-width="0.7" />
<text x="179.80" y="350.90" font-size="6.8" font-weight="normal" text-anchor="end" fill="#fff" font-style="italic">1000 &#181;m</text>
<line x1="157.80" y1="355.30" x2="174.40" y2="355.30" stroke="#e8e8ff" stroke-width="0.8" />
<line x1="157.80" y1="353.90" x2="157.80" y2="356.70" stroke="#e8e8ff" stroke-width="0.7" />
<line x1="174.40" y1="353.90" x2="174.40" y2="356.70" stroke="#e8e8ff" stroke-width="0.7" />
<text x="268.80" y="350.90" font-size="6.8" font-weight="normal" text-anchor="end" fill="#fff" font-style="italic">1000 &#181;m</text>
<line x1="246.80" y1="355.30" x2="263.40" y2="355.30" stroke="#e8e8ff" stroke-width="0.8" />
<line x1="246.80" y1="353.90" x2="246.80" y2="356.70" stroke="#e8e8ff" stroke-width="0.7" />
<line x1="263.40" y1="353.90" x2="263.40" y2="356.70" stroke="#e8e8ff" stroke-width="0.7" />
<text x="357.50" y="350.90" font-size="6.8" font-weight="normal" text-anchor="end" fill="#fff" font-style="italic">1000 &#181;m</text>
<line x1="335.50" y1="355.30" x2="352.10" y2="355.30" stroke="#e8e8ff" stroke-width="0.8" />
<line x1="335.50" y1="353.90" x2="335.50" y2="356.70" stroke="#e8e8ff" stroke-width="0.7" />
<line x1="352.10" y1="353.90" x2="352.10" y2="356.70" stroke="#e8e8ff" stroke-width="0.7" />
<text x="446.40" y="350.90" font-size="6.8" font-weight="normal" text-anchor="end" fill="#fff" font-style="italic">1000 &#181;m</text>
<line x1="424.40" y1="355.30" x2="441.00" y2="355.30" stroke="#e8e8ff" stroke-width="0.8" />
<line x1="424.40" y1="353.90" x2="424.40" y2="356.70" stroke="#e8e8ff" stroke-width="0.7" />
<line x1="441.00" y1="353.90" x2="441.00" y2="356.70" stroke="#e8e8ff" stroke-width="0.7" />
<line x1="497.00" y1="242.12" x2="497.00" y2="354.20" stroke="#2a2a2a" stroke-width="1.3" />
<line x1="497.00" y1="353.60" x2="676.00" y2="353.60" stroke="#2a2a2a" stroke-width="1.3" />
<line x1="494.00" y1="353.60" x2="497.00" y2="353.60" stroke="#2a2a2a" stroke-width="1.3" />
<text x="492.20" y="356.50" font-size="7.9" font-weight="bold" text-anchor="end" fill="#111" >0</text>
<line x1="494.00" y1="325.88" x2="497.00" y2="325.88" stroke="#2a2a2a" stroke-width="1.3" />
<text x="492.20" y="328.78" font-size="7.9" font-weight="bold" text-anchor="end" fill="#111" >20</text>
<line x1="494.00" y1="298.16" x2="497.00" y2="298.16" stroke="#2a2a2a" stroke-width="1.3" />
<text x="492.20" y="301.06" font-size="7.9" font-weight="bold" text-anchor="end" fill="#111" >40</text>
<line x1="494.00" y1="270.44" x2="497.00" y2="270.44" stroke="#2a2a2a" stroke-width="1.3" />
<text x="492.20" y="273.34" font-size="7.9" font-weight="bold" text-anchor="end" fill="#111" >60</text>
<line x1="494.00" y1="242.72" x2="497.00" y2="242.72" stroke="#2a2a2a" stroke-width="1.3" />
<text x="492.20" y="245.62" font-size="7.9" font-weight="bold" text-anchor="end" fill="#111" >80</text>
<text transform="translate(474.70,300.90) rotate(-90)" font-size="9.3" font-weight="bold" text-anchor="middle" fill="#111" >MAT/Me.Cavity&#160;(%)</text>
<line x1="518.30" y1="244.60" x2="552.60" y2="244.60" stroke="#111" stroke-width="1.2" />
<polygon points="528.70,239.60 529.36,241.19 531.08,241.33 529.77,242.45 530.17,244.12 528.70,243.22 527.23,244.12 527.63,242.45 526.32,241.33 528.04,241.19" fill="#1a1a1a"/>
<polygon points="533.30,239.60 533.96,241.19 535.68,241.33 534.37,242.45 534.77,244.12 533.30,243.22 531.83,244.12 532.23,242.45 530.92,241.33 532.64,241.19" fill="#1a1a1a"/>
<polygon points="537.90,239.60 538.56,241.19 540.28,241.33 538.97,242.45 539.37,244.12 537.90,243.22 536.43,244.12 536.83,242.45 535.52,241.33 537.24,241.19" fill="#1a1a1a"/>
<polygon points="542.50,239.60 543.16,241.19 544.88,241.33 543.57,242.45 543.97,244.12 542.50,243.22 541.03,244.12 541.43,242.45 540.12,241.33 541.84,241.19" fill="#1a1a1a"/>
<line x1="518.30" y1="237.30" x2="585.40" y2="237.30" stroke="#111" stroke-width="1.2" />
<polygon points="545.10,232.50 545.76,234.09 547.48,234.23 546.17,235.35 546.57,237.02 545.10,236.12 543.63,237.02 544.03,235.35 542.72,234.23 544.44,234.09" fill="#1a1a1a"/>
<polygon points="549.70,232.50 550.36,234.09 552.08,234.23 550.77,235.35 551.17,237.02 549.70,236.12 548.23,237.02 548.63,235.35 547.32,234.23 549.04,234.09" fill="#1a1a1a"/>
<polygon points="554.30,232.50 554.96,234.09 556.68,234.23 555.37,235.35 555.77,237.02 554.30,236.12 552.83,237.02 553.23,235.35 551.92,234.23 553.64,234.09" fill="#1a1a1a"/>
<polygon points="558.90,232.50 559.56,234.09 561.28,234.23 559.97,235.35 560.37,237.02 558.90,236.12 557.43,237.02 557.83,235.35 556.52,234.23 558.24,234.09" fill="#1a1a1a"/>
<line x1="518.30" y1="230.20" x2="618.30" y2="230.20" stroke="#111" stroke-width="1.2" />
<polygon points="561.80,225.10 562.46,226.69 564.18,226.83 562.87,227.95 563.27,229.62 561.80,228.72 560.33,229.62 560.73,227.95 559.42,226.83 561.14,226.69" fill="#1a1a1a"/>
<polygon points="566.40,225.10 567.06,226.69 568.78,226.83 567.47,227.95 567.87,229.62 566.40,228.72 564.93,229.62 565.33,227.95 564.02,226.83 565.74,226.69" fill="#1a1a1a"/>
<polygon points="571.00,225.10 571.66,226.69 573.38,226.83 572.07,227.95 572.47,229.62 571.00,228.72 569.53,229.62 569.93,227.95 568.62,226.83 570.34,226.69" fill="#1a1a1a"/>
<polygon points="575.60,225.10 576.26,226.69 577.98,226.83 576.67,227.95 577.07,229.62 575.60,228.72 574.13,229.62 574.53,227.95 573.22,226.83 574.94,226.69" fill="#1a1a1a"/>
<line x1="518.30" y1="223.20" x2="651.50" y2="223.20" stroke="#111" stroke-width="1.2" />
<polygon points="578.30,217.40 578.96,218.99 580.68,219.13 579.37,220.25 579.77,221.92 578.30,221.03 576.83,221.92 577.23,220.25 575.92,219.13 577.64,218.99" fill="#1a1a1a"/>
<polygon points="582.90,217.40 583.56,218.99 585.28,219.13 583.97,220.25 584.37,221.92 582.90,221.03 581.43,221.92 581.83,220.25 580.52,219.13 582.24,218.99" fill="#1a1a1a"/>
<polygon points="587.50,217.40 588.16,218.99 589.88,219.13 588.57,220.25 588.97,221.92 587.50,221.03 586.03,221.92 586.43,220.25 585.12,219.13 586.84,218.99" fill="#1a1a1a"/>
<polygon points="592.10,217.40 592.76,218.99 594.48,219.13 593.17,220.25 593.57,221.92 592.10,221.03 590.63,221.92 591.03,220.25 589.72,219.13 591.44,218.99" fill="#1a1a1a"/>
<circle cx="519.40" cy="324.30" r="2.2" fill="#000"/>
<circle cx="519.40" cy="337.10" r="2.2" fill="#000"/>
<circle cx="510.20" cy="343.20" r="2.2" fill="#000"/>
<circle cx="519.70" cy="345.50" r="2.2" fill="#000"/>
<circle cx="528.50" cy="344.40" r="2.2" fill="#000"/>
<circle cx="510.20" cy="351.40" r="2.2" fill="#000"/>
<circle cx="519.70" cy="350.50" r="2.2" fill="#000"/>
<circle cx="528.50" cy="351.40" r="2.2" fill="#000"/>
<rect x="550.85" y="247.15" width="4.5" height="4.5" fill="#E8A830"/>
<rect x="546.35" y="266.45" width="4.5" height="4.5" fill="#E8A830"/>
<rect x="555.15" y="269.05" width="4.5" height="4.5" fill="#E8A830"/>
<rect x="550.85" y="279.75" width="4.5" height="4.5" fill="#E8A830"/>
<rect x="550.85" y="291.55" width="4.5" height="4.5" fill="#E8A830"/>
<rect x="550.85" y="299.85" width="4.5" height="4.5" fill="#E8A830"/>
<rect x="550.85" y="307.85" width="4.5" height="4.5" fill="#E8A830"/>
<rect x="550.85" y="316.75" width="4.5" height="4.5" fill="#E8A830"/>
<path d="M586.50,255.50 L589.00,260.00 L584.00,260.00Z" fill="#3DAA7B"/>
<path d="M578.20,281.80 L580.70,286.30 L575.70,286.30Z" fill="#3DAA7B"/>
<path d="M583.30,279.30 L585.80,283.80 L580.80,283.80Z" fill="#3DAA7B"/>
<path d="M589.40,276.60 L591.90,281.10 L586.90,281.10Z" fill="#3DAA7B"/>
<path d="M594.90,281.40 L597.40,285.90 L592.40,285.90Z" fill="#3DAA7B"/>
<path d="M589.40,284.20 L591.90,288.70 L586.90,288.70Z" fill="#3DAA7B"/>
<path d="M586.50,292.70 L589.00,297.20 L584.00,297.20Z" fill="#3DAA7B"/>
<path d="M586.50,308.70 L589.00,313.20 L584.00,313.20Z" fill="#3DAA7B"/>
<path d="M611.60,275.50 L614.10,271.00 L609.10,271.00Z" fill="#62B6EA"/>
<path d="M628.40,277.20 L630.90,272.70 L625.90,272.70Z" fill="#62B6EA"/>
<path d="M620.20,280.70 L622.70,276.20 L617.70,276.20Z" fill="#62B6EA"/>
<path d="M628.40,288.70 L630.90,284.20 L625.90,284.20Z" fill="#62B6EA"/>
<path d="M620.20,292.10 L622.70,287.60 L617.70,287.60Z" fill="#62B6EA"/>
<path d="M611.60,298.60 L614.10,294.10 L609.10,294.10Z" fill="#62B6EA"/>
<path d="M628.40,300.70 L630.90,296.20 L625.90,296.20Z" fill="#62B6EA"/>
<path d="M620.20,301.70 L622.70,297.20 L617.70,297.20Z" fill="#62B6EA"/>
<path d="M620.20,308.60 L622.70,304.10 L617.70,304.10Z" fill="#62B6EA"/>
<path d="M653.50,273.00 L656.20,275.70 L653.50,278.40 L650.80,275.70Z" fill="#DB8FC0"/>
<path d="M662.10,273.00 L664.80,275.70 L662.10,278.40 L659.40,275.70Z" fill="#DB8FC0"/>
<path d="M645.00,278.20 L647.70,280.90 L645.00,283.60 L642.30,280.90Z" fill="#DB8FC0"/>
<path d="M662.10,281.60 L664.80,284.30 L662.10,287.00 L659.40,284.30Z" fill="#DB8FC0"/>
<path d="M653.50,284.70 L656.20,287.40 L653.50,290.10 L650.80,287.40Z" fill="#DB8FC0"/>
<path d="M645.00,300.40 L647.70,303.10 L645.00,305.80 L642.30,303.10Z" fill="#DB8FC0"/>
<path d="M662.10,303.20 L664.80,305.90 L662.10,308.60 L659.40,305.90Z" fill="#DB8FC0"/>
<path d="M653.50,308.30 L656.20,311.00 L653.50,313.70 L650.80,311.00Z" fill="#DB8FC0"/>
<path d="M653.50,316.00 L656.20,318.70 L653.50,321.40 L650.80,318.70Z" fill="#DB8FC0"/>
<line x1="519.40" y1="340.30" x2="519.40" y2="346.80" stroke="#777" stroke-width="0.9" />
<line x1="515.60" y1="340.30" x2="523.20" y2="340.30" stroke="#777" stroke-width="0.9" />
<line x1="515.60" y1="346.80" x2="523.20" y2="346.80" stroke="#777" stroke-width="0.9" />
<line x1="508.60" y1="343.60" x2="530.20" y2="343.60" stroke="#333" stroke-width="1.4" />
<line x1="553.10" y1="278.40" x2="553.10" y2="295.40" stroke="#F0C070" stroke-width="0.9" />
<line x1="546.10" y1="278.40" x2="560.10" y2="278.40" stroke="#F0C070" stroke-width="0.9" />
<line x1="546.10" y1="295.40" x2="560.10" y2="295.40" stroke="#F0C070" stroke-width="0.9" />
<line x1="542.00" y1="286.90" x2="564.20" y2="286.90" stroke="#333" stroke-width="1.4" />
<line x1="586.50" y1="280.00" x2="586.50" y2="290.60" stroke="#3DAA7B" stroke-width="0.9" />
<line x1="581.00" y1="280.00" x2="592.00" y2="280.00" stroke="#3DAA7B" stroke-width="0.9" />
<line x1="581.00" y1="290.60" x2="592.00" y2="290.60" stroke="#3DAA7B" stroke-width="0.9" />
<line x1="575.30" y1="285.30" x2="597.70" y2="285.30" stroke="#333" stroke-width="1.4" />
<line x1="620.00" y1="286.00" x2="620.00" y2="293.40" stroke="#A8D4F0" stroke-width="0.9" />
<line x1="614.50" y1="286.00" x2="625.50" y2="286.00" stroke="#A8D4F0" stroke-width="0.9" />
<line x1="614.50" y1="293.40" x2="625.50" y2="293.40" stroke="#A8D4F0" stroke-width="0.9" />
<line x1="609.10" y1="290.00" x2="630.90" y2="290.00" stroke="#333" stroke-width="1.4" />
<line x1="653.70" y1="288.20" x2="653.70" y2="299.40" stroke="#D98CBF" stroke-width="0.9" />
<line x1="648.20" y1="288.20" x2="659.20" y2="288.20" stroke="#D98CBF" stroke-width="0.9" />
<line x1="648.20" y1="299.40" x2="659.20" y2="299.40" stroke="#D98CBF" stroke-width="0.9" />
<line x1="642.60" y1="293.70" x2="664.80" y2="293.70" stroke="#333" stroke-width="1.4" />
<text transform="translate(524.70,362.80) rotate(-45)" font-size="8.4" font-weight="normal" text-anchor="end" fill="#151515" >SH</text>
<text transform="translate(554.00,362.80) rotate(-45)" font-size="8.4" font-weight="normal" text-anchor="end" fill="#151515" >OVX/AI</text>
<text transform="translate(592.40,362.80) rotate(-45)" font-size="8.4" font-weight="normal" text-anchor="end" fill="#151515" >OVX/AI+LIV</text>
<text transform="translate(621.00,362.80) rotate(-45)" font-size="8.4" font-weight="normal" text-anchor="end" fill="#151515" >OVX/AI+ZA</text>
<text transform="translate(656.80,362.80) rotate(-45)" font-size="8.4" font-weight="normal" text-anchor="end" fill="#151515" >OVX/AI+LIV/ZA</text>
<line x1="43.50" y1="419.80" x2="43.50" y2="539.20" stroke="#2a2a2a" stroke-width="1.3" />
<line x1="43.50" y1="538.60" x2="221.30" y2="538.60" stroke="#2a2a2a" stroke-width="1.3" />
<line x1="40.10" y1="538.60" x2="43.50" y2="538.60" stroke="#2a2a2a" stroke-width="1.3" />
<text x="38.40" y="541.80" font-size="7.8" font-weight="bold" text-anchor="end" fill="#111" >0.0</text>
<line x1="40.10" y1="499.20" x2="43.50" y2="499.20" stroke="#2a2a2a" stroke-width="1.3" />
<text x="38.40" y="502.40" font-size="7.8" font-weight="bold" text-anchor="end" fill="#111" >0.2</text>
<line x1="40.10" y1="459.80" x2="43.50" y2="459.80" stroke="#2a2a2a" stroke-width="1.3" />
<text x="38.40" y="463.00" font-size="7.8" font-weight="bold" text-anchor="end" fill="#111" >0.4</text>
<line x1="40.10" y1="420.40" x2="43.50" y2="420.40" stroke="#2a2a2a" stroke-width="1.3" />
<text x="38.40" y="423.60" font-size="7.8" font-weight="bold" text-anchor="end" fill="#111" >0.6</text>
<text transform="translate(22.70,481.00) rotate(-90)" font-size="9.8" font-weight="bold" text-anchor="middle" fill="#111" >Ad.Ar./Ma.Ar.&#160;(%)</text>
<text x="3.20" y="412.20" font-size="10" font-weight="bold" text-anchor="start" fill="#111" >e</text>
<text x="129.60" y="409.60" font-size="8.2" font-weight="bold" text-anchor="middle" fill="#111" >Marrow Adipose Tissue</text>
<text x="127.00" y="419.60" font-size="8.2" font-weight="bold" text-anchor="middle" fill="#111" >Histological Analysis</text>
<line x1="61.20" y1="434.60" x2="94.90" y2="434.60" stroke="#111" stroke-width="1.2" />
<path d="M75.10,427.80 L75.10,424.90 M75.10,427.80 L77.86,426.90 M75.10,427.80 L76.80,430.15 M75.10,427.80 L73.40,430.15 M75.10,427.80 L72.34,426.90" stroke="#111" stroke-width="1.3" stroke-linecap="round" fill="none"/>
<path d="M82.50,427.80 L82.50,424.90 M82.50,427.80 L85.26,426.90 M82.50,427.80 L84.20,430.15 M82.50,427.80 L80.80,430.15 M82.50,427.80 L79.74,426.90" stroke="#111" stroke-width="1.3" stroke-linecap="round" fill="none"/>
<circle cx="61.50" cy="526.80" r="2.1" fill="#000"/>
<circle cx="57.50" cy="533.00" r="2.1" fill="#000"/>
<circle cx="51.70" cy="535.50" r="2.1" fill="#000"/>
<circle cx="64.80" cy="535.50" r="2.1" fill="#000"/>
<circle cx="70.70" cy="534.90" r="2.1" fill="#000"/>
<rect x="94.70" y="437.50" width="4.4" height="4.4" fill="#EEAA18"/>
<rect x="94.70" y="447.60" width="4.4" height="4.4" fill="#EEAA18"/>
<rect x="94.70" y="479.70" width="4.4" height="4.4" fill="#EEAA18"/>
<rect x="94.70" y="489.60" width="4.4" height="4.4" fill="#EEAA18"/>
<rect x="94.70" y="516.20" width="4.4" height="4.4" fill="#EEAA18"/>
<path d="M132.40,471.87 L135.30,477.09 L129.50,477.09Z" fill="#19A57E"/>
<path d="M132.40,487.27 L135.30,492.49 L129.50,492.49Z" fill="#19A57E"/>
<path d="M126.40,505.77 L129.30,510.99 L123.50,510.99Z" fill="#19A57E"/>
<path d="M138.10,511.17 L141.00,516.39 L135.20,516.39Z" fill="#19A57E"/>
<path d="M132.40,533.47 L135.30,538.69 L129.50,538.69Z" fill="#19A57E"/>
<path d="M167.90,457.53 L170.80,452.31 L165.00,452.31Z" fill="#5BBDEE"/>
<path d="M167.90,488.93 L170.80,483.71 L165.00,483.71Z" fill="#5BBDEE"/>
<path d="M167.90,502.33 L170.80,497.11 L165.00,497.11Z" fill="#5BBDEE"/>
<path d="M167.90,513.63 L170.80,508.41 L165.00,508.41Z" fill="#5BBDEE"/>
<path d="M167.90,531.43 L170.80,526.21 L165.00,526.21Z" fill="#5BBDEE"/>
<path d="M203.40,499.80 L206.00,502.40 L203.40,505.00 L200.80,502.40Z" fill="#D48CBB"/>
<path d="M197.50,514.20 L200.10,516.80 L197.50,519.40 L194.90,516.80Z" fill="#D48CBB"/>
<path d="M209.70,512.80 L212.30,515.40 L209.70,518.00 L207.10,515.40Z" fill="#D48CBB"/>
<path d="M197.50,525.00 L200.10,527.60 L197.50,530.20 L194.90,527.60Z" fill="#D48CBB"/>
<path d="M209.70,523.90 L212.30,526.50 L209.70,529.10 L207.10,526.50Z" fill="#D48CBB"/>
<line x1="61.20" y1="531.20" x2="61.20" y2="535.00" stroke="#333" stroke-width="0.9" />
<line x1="56.70" y1="531.20" x2="65.70" y2="531.20" stroke="#333" stroke-width="0.9" />
<line x1="56.70" y1="535.00" x2="65.70" y2="535.00" stroke="#333" stroke-width="0.9" />
<line x1="49.60" y1="533.00" x2="72.80" y2="533.00" stroke="#222" stroke-width="1.4" />
<line x1="96.90" y1="462.30" x2="96.90" y2="490.40" stroke="#F2C060" stroke-width="0.9" />
<line x1="90.90" y1="462.30" x2="102.90" y2="462.30" stroke="#F2C060" stroke-width="0.9" />
<line x1="90.90" y1="490.40" x2="102.90" y2="490.40" stroke="#F2C060" stroke-width="0.9" />
<line x1="85.20" y1="476.40" x2="108.60" y2="476.40" stroke="#222" stroke-width="1.4" />
<line x1="132.40" y1="494.30" x2="132.40" y2="515.20" stroke="#19A57E" stroke-width="0.9" />
<line x1="126.40" y1="494.30" x2="138.40" y2="494.30" stroke="#19A57E" stroke-width="0.9" />
<line x1="126.40" y1="515.20" x2="138.40" y2="515.20" stroke="#19A57E" stroke-width="0.9" />
<line x1="120.70" y1="504.60" x2="144.10" y2="504.60" stroke="#222" stroke-width="1.4" />
<line x1="167.90" y1="483.60" x2="167.90" y2="508.50" stroke="#8FD0F2" stroke-width="0.9" />
<line x1="162.10" y1="483.60" x2="173.70" y2="483.60" stroke="#8FD0F2" stroke-width="0.9" />
<line x1="162.10" y1="508.50" x2="173.70" y2="508.50" stroke="#8FD0F2" stroke-width="0.9" />
<line x1="156.20" y1="496.20" x2="179.60" y2="496.20" stroke="#222" stroke-width="1.4" />
<line x1="203.40" y1="513.60" x2="203.40" y2="522.20" stroke="#D48CBB" stroke-width="0.9" />
<line x1="197.90" y1="513.60" x2="208.90" y2="513.60" stroke="#D48CBB" stroke-width="0.9" />
<line x1="197.90" y1="522.20" x2="208.90" y2="522.20" stroke="#D48CBB" stroke-width="0.9" />
<line x1="191.60" y1="517.70" x2="215.20" y2="517.70" stroke="#222" stroke-width="1.4" />
<text transform="translate(63.70,545.80) rotate(-45)" font-size="8.4" font-weight="normal" text-anchor="end" fill="#151515" >SH</text>
<text transform="translate(99.20,545.80) rotate(-45)" font-size="8.4" font-weight="normal" text-anchor="end" fill="#151515" >OVX/AI</text>
<text transform="translate(133.70,545.80) rotate(-45)" font-size="8.4" font-weight="normal" text-anchor="end" fill="#151515" >OVX/AI+LIV</text>
<text transform="translate(169.20,545.80) rotate(-45)" font-size="8.4" font-weight="normal" text-anchor="end" fill="#151515" >OVX/AI+ZA</text>
<text transform="translate(206.20,545.80) rotate(-45)" font-size="8.4" font-weight="normal" text-anchor="end" fill="#151515" >OVX/AI+LIV/ZA</text>
<line x1="293.80" y1="422.74" x2="293.80" y2="539.20" stroke="#2a2a2a" stroke-width="1.3" />
<line x1="293.80" y1="538.60" x2="467.60" y2="538.60" stroke="#2a2a2a" stroke-width="1.3" />
<line x1="290.30" y1="538.60" x2="293.80" y2="538.60" stroke="#2a2a2a" stroke-width="1.3" />
<text x="287.90" y="541.40" font-size="7.9" font-weight="bold" text-anchor="end" fill="#111" >0</text>
<line x1="290.30" y1="500.18" x2="293.80" y2="500.18" stroke="#2a2a2a" stroke-width="1.3" />
<text x="287.90" y="502.98" font-size="7.9" font-weight="bold" text-anchor="end" fill="#111" >200</text>
<line x1="290.30" y1="461.76" x2="293.80" y2="461.76" stroke="#2a2a2a" stroke-width="1.3" />
<text x="287.90" y="464.56" font-size="7.9" font-weight="bold" text-anchor="end" fill="#111" >400</text>
<line x1="290.30" y1="423.34" x2="293.80" y2="423.34" stroke="#2a2a2a" stroke-width="1.3" />
<text x="287.90" y="426.14" font-size="7.9" font-weight="bold" text-anchor="end" fill="#111" >600</text>
<text transform="translate(269.20,480.70) rotate(-90)" font-size="9.8" font-weight="bold" text-anchor="middle" fill="#111" >N.Ad/Ma.Ar.&#160;(%)</text>
<text x="257.40" y="412.20" font-size="10" font-weight="bold" text-anchor="start" fill="#111" >f</text>
<line x1="309.60" y1="427.40" x2="346.40" y2="427.40" stroke="#111" stroke-width="1.2" />
<path d="M327.70,420.60 L327.70,417.70 M327.70,420.60 L330.46,419.70 M327.70,420.60 L329.40,422.95 M327.70,420.60 L326.00,422.95 M327.70,420.60 L324.94,419.70" stroke="#111" stroke-width="1.3" stroke-linecap="round" fill="none"/>
<circle cx="311.50" cy="513.50" r="2.1" fill="#000"/>
<circle cx="301.90" cy="532.30" r="2.1" fill="#000"/>
<circle cx="308.30" cy="529.90" r="2.1" fill="#000"/>
<circle cx="314.40" cy="531.80" r="2.1" fill="#000"/>
<circle cx="320.80" cy="530.70" r="2.1" fill="#000"/>
<rect x="343.80" y="431.00" width="4.4" height="4.4" fill="#EEAA18"/>
<rect x="343.80" y="452.40" width="4.4" height="4.4" fill="#EEAA18"/>
<rect x="343.80" y="489.10" width="4.4" height="4.4" fill="#EEAA18"/>
<rect x="343.80" y="494.40" width="4.4" height="4.4" fill="#EEAA18"/>
<rect x="343.80" y="514.50" width="4.4" height="4.4" fill="#EEAA18"/>
<path d="M381.00,474.87 L383.90,480.09 L378.10,480.09Z" fill="#19A57E"/>
<path d="M374.90,482.57 L377.80,487.79 L372.00,487.79Z" fill="#19A57E"/>
<path d="M387.00,481.27 L389.90,486.49 L384.10,486.49Z" fill="#19A57E"/>
<path d="M381.00,506.37 L383.90,511.59 L378.10,511.59Z" fill="#19A57E"/>
<path d="M381.00,532.37 L383.90,537.59 L378.10,537.59Z" fill="#19A57E"/>
<path d="M415.80,443.33 L418.70,438.11 L412.90,438.11Z" fill="#5BBDEE"/>
<path d="M415.80,486.13 L418.70,480.91 L412.90,480.91Z" fill="#5BBDEE"/>
<path d="M415.80,497.93 L418.70,492.71 L412.90,492.71Z" fill="#5BBDEE"/>
<path d="M415.80,516.63 L418.70,511.41 L412.90,511.41Z" fill="#5BBDEE"/>
<path d="M415.80,529.03 L418.70,523.81 L412.90,523.81Z" fill="#5BBDEE"/>
<path d="M450.70,501.70 L453.30,504.30 L450.70,506.90 L448.10,504.30Z" fill="#D48CBB"/>
<path d="M444.80,513.40 L447.40,516.00 L444.80,518.60 L442.20,516.00Z" fill="#D48CBB"/>
<path d="M456.60,512.30 L459.20,514.90 L456.60,517.50 L454.00,514.90Z" fill="#D48CBB"/>
<path d="M444.80,520.70 L447.40,523.30 L444.80,525.90 L442.20,523.30Z" fill="#D48CBB"/>
<path d="M456.60,519.30 L459.20,521.90 L456.60,524.50 L454.00,521.90Z" fill="#D48CBB"/>
<line x1="311.30" y1="524.20" x2="311.30" y2="530.00" stroke="#333" stroke-width="0.9" />
<line x1="305.30" y1="524.20" x2="317.30" y2="524.20" stroke="#333" stroke-width="0.9" />
<line x1="305.30" y1="530.00" x2="317.30" y2="530.00" stroke="#333" stroke-width="0.9" />
<line x1="299.80" y1="527.10" x2="322.80" y2="527.10" stroke="#222" stroke-width="1.4" />
<line x1="346.00" y1="463.20" x2="346.00" y2="493.40" stroke="#F2C060" stroke-width="0.9" />
<line x1="340.10" y1="463.20" x2="351.90" y2="463.20" stroke="#F2C060" stroke-width="0.9" />
<line x1="340.10" y1="493.40" x2="351.90" y2="493.40" stroke="#F2C060" stroke-width="0.9" />
<line x1="334.40" y1="478.40" x2="357.60" y2="478.40" stroke="#222" stroke-width="1.4" />
<line x1="381.00" y1="487.60" x2="381.00" y2="509.00" stroke="#7FD3BC" stroke-width="0.9" />
<line x1="375.30" y1="487.60" x2="386.70" y2="487.60" stroke="#7FD3BC" stroke-width="0.9" />
<line x1="375.30" y1="509.00" x2="386.70" y2="509.00" stroke="#7FD3BC" stroke-width="0.9" />
<line x1="369.50" y1="498.20" x2="392.50" y2="498.20" stroke="#222" stroke-width="1.4" />
<line x1="415.80" y1="477.30" x2="415.80" y2="506.60" stroke="#8FD0F2" stroke-width="0.9" />
<line x1="409.70" y1="477.30" x2="421.90" y2="477.30" stroke="#8FD0F2" stroke-width="0.9" />
<line x1="409.70" y1="506.60" x2="421.90" y2="506.60" stroke="#8FD0F2" stroke-width="0.9" />
<line x1="404.10" y1="492.10" x2="427.50" y2="492.10" stroke="#222" stroke-width="1.4" />
<line x1="450.70" y1="512.50" x2="450.70" y2="519.00" stroke="#D48CBB" stroke-width="0.9" />
<line x1="445.20" y1="512.50" x2="456.20" y2="512.50" stroke="#D48CBB" stroke-width="0.9" />
<line x1="445.20" y1="519.00" x2="456.20" y2="519.00" stroke="#D48CBB" stroke-width="0.9" />
<line x1="439.00" y1="515.90" x2="462.40" y2="515.90" stroke="#222" stroke-width="1.4" />
<text transform="translate(316.40,546.00) rotate(-45)" font-size="8.4" font-weight="normal" text-anchor="end" fill="#151515" >SH</text>
<text transform="translate(351.20,546.00) rotate(-45)" font-size="8.4" font-weight="normal" text-anchor="end" fill="#151515" >OVX/AI</text>
<text transform="translate(386.10,546.00) rotate(-45)" font-size="8.4" font-weight="normal" text-anchor="end" fill="#151515" >OVX/AI+LIV</text>
<text transform="translate(421.80,546.00) rotate(-45)" font-size="8.4" font-weight="normal" text-anchor="end" fill="#151515" >OVX/AI+ZA</text>
<text transform="translate(458.80,546.00) rotate(-45)" font-size="8.4" font-weight="normal" text-anchor="end" fill="#151515" >OVX/AI+LIV/ZA</text>
</svg>
</body></html>
